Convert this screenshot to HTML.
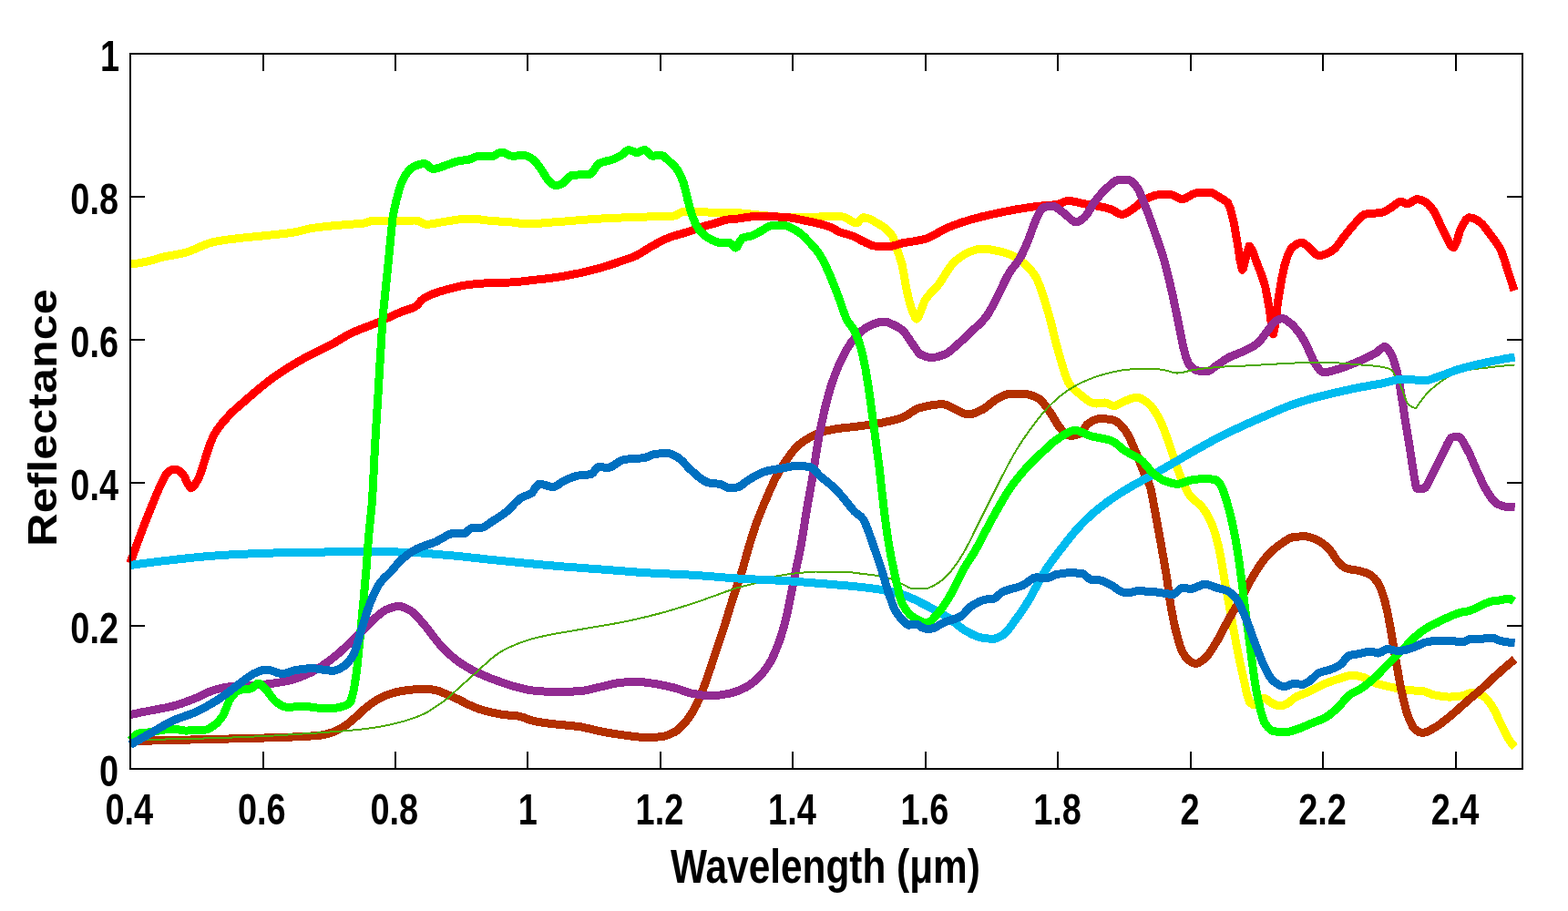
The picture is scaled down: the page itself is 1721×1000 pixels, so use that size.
<!DOCTYPE html>
<html lang="en">
<head>
<meta charset="utf-8">
<title>Reflectance vs Wavelength</title>
<style>
html,body{margin:0;padding:0;background:#fff;}
body{width:1721px;height:1000px;overflow:hidden;}
svg{display:block;}
text{font-family:"Liberation Sans",Arial,Helvetica,sans-serif;font-weight:bold;fill:#000;}
.c{fill:none;stroke-linejoin:round;stroke-linecap:butt;}
</style>
</head>
<body>
<svg width="1721" height="1000" viewBox="0 0 1721 1000">
<rect x="0" y="0" width="1721" height="1000" fill="#ffffff"/>
<g class="c">
<polyline stroke="#ffff00" stroke-width="8.2" points="143.0,290.0 146.5,289.6 150.0,289.2 153.5,288.6 157.0,287.9 160.5,287.2 164.0,286.5 165.0,286.2 167.5,285.6 171.0,284.5 174.5,283.3 177.5,282.5 178.0,282.4 181.5,281.6 185.0,280.9 188.5,280.3 192.0,279.7 195.5,279.0 199.0,278.3 202.5,277.5 202.5,277.5 206.0,276.5 209.5,275.2 213.0,273.8 216.5,272.3 220.0,270.7 223.5,269.2 227.0,267.9 230.5,266.7 234.0,265.7 235.0,265.5 237.5,265.0 241.0,264.4 244.5,263.8 248.0,263.3 251.5,262.8 255.0,262.4 258.5,262.0 262.0,261.6 265.0,261.2 265.5,261.2 269.0,260.8 272.5,260.4 276.0,260.1 279.5,259.8 283.0,259.4 286.5,259.1 290.0,258.8 290.0,258.7 293.5,258.4 297.1,258.0 300.6,257.7 304.1,257.3 307.6,256.9 311.1,256.5 314.6,256.1 318.1,255.7 321.6,255.1 322.5,255.0 325.1,254.5 328.6,253.7 332.1,252.8 335.6,251.9 339.1,251.1 342.5,250.5 342.6,250.5 346.1,250.0 349.6,249.5 353.1,249.1 356.6,248.7 360.1,248.4 363.6,248.0 367.1,247.7 370.6,247.4 374.1,247.1 377.5,246.8 377.6,246.7 381.1,246.5 384.6,246.2 388.1,246.0 391.6,245.8 395.1,245.5 398.6,245.2 400.0,245.0 402.1,244.5 405.6,243.1 409.1,242.1 410.0,242.0 412.6,242.0 416.1,242.1 419.6,242.2 423.1,242.3 426.6,242.4 430.1,242.4 433.6,242.5 435.0,242.5 437.1,242.5 440.6,242.4 444.1,242.3 447.6,242.2 451.1,242.1 454.6,242.0 457.5,242.0 458.1,242.0 461.6,243.6 465.1,245.6 467.5,246.2 468.6,246.2 472.1,246.0 475.6,245.5 479.1,244.9 482.6,244.3 486.1,243.6 489.6,243.1 490.0,243.0 493.1,242.6 496.6,242.0 500.1,241.5 503.6,240.9 507.1,240.5 510.6,240.2 514.1,240.0 515.0,240.0 517.6,240.1 521.1,240.3 524.6,240.7 528.1,241.1 531.6,241.6 535.1,242.0 538.6,242.4 540.0,242.5 542.1,242.7 545.6,242.9 549.1,243.1 552.6,243.3 556.1,243.5 559.6,243.7 560.0,243.8 563.1,244.1 566.6,244.6 570.1,245.1 573.6,245.6 577.1,245.7 577.5,245.8 580.6,245.7 584.1,245.6 587.6,245.4 591.1,245.2 594.6,245.0 598.1,244.7 601.7,244.4 605.2,244.1 608.7,243.8 610.0,243.8 612.2,243.6 615.7,243.3 619.2,243.1 622.7,242.8 626.2,242.5 629.7,242.2 633.2,241.9 636.7,241.6 640.2,241.4 643.7,241.1 647.2,240.8 650.7,240.6 654.2,240.3 657.7,240.1 660.0,240.0 661.2,239.9 664.7,239.8 668.2,239.6 671.7,239.4 675.2,239.3 678.7,239.1 682.2,239.0 685.7,238.9 689.2,238.7 692.7,238.6 696.2,238.5 699.7,238.4 703.2,238.2 706.7,238.1 710.0,238.0 710.2,238.0 713.7,237.9 717.2,237.8 720.7,237.7 724.2,237.7 727.7,237.6 731.2,237.5 734.7,237.3 738.2,237.1 740.0,237.0 741.7,236.6 745.2,234.5 748.7,232.7 750.0,232.5 752.2,232.5 755.7,232.5 759.2,232.6 762.7,232.7 766.2,232.8 769.7,232.8 773.2,232.9 776.7,233.0 780.2,233.1 783.7,233.2 785.0,233.2 787.2,233.3 790.7,233.4 794.2,233.4 797.7,233.5 801.2,233.5 804.7,233.6 808.2,233.7 810.0,233.8 811.7,233.8 815.2,234.1 818.7,234.4 822.2,234.8 825.7,235.2 829.2,235.7 832.7,236.0 835.0,236.2 836.2,236.4 839.7,236.7 843.2,237.0 846.7,237.3 850.2,237.6 853.7,237.9 857.2,238.1 860.7,238.4 864.2,238.6 867.7,238.7 871.2,238.7 872.5,238.8 874.7,238.8 878.2,238.8 881.7,238.8 885.0,238.8 885.2,238.7 888.7,238.7 892.2,238.5 895.7,238.3 899.2,238.0 902.8,237.8 906.3,237.6 909.8,237.5 910.0,237.5 913.3,237.5 916.8,237.6 920.3,237.7 923.8,237.9 925.0,238.0 927.3,238.5 930.8,240.4 934.3,242.8 937.8,244.6 940.0,245.0 941.3,244.5 944.8,240.6 947.5,238.8 948.3,238.8 951.8,239.4 955.3,240.7 958.8,242.6 962.3,244.6 965.0,246.2 965.8,246.7 969.3,248.9 972.8,251.6 976.3,255.0 979.8,259.7 980.0,260.0 983.3,269.3 985.0,275.0 986.8,280.0 990.0,290.0 990.3,291.1 993.8,311.0 995.0,317.5 997.3,327.8 1000.0,337.5 1000.8,339.7 1004.3,348.2 1006.2,350.0 1007.8,348.7 1011.3,339.7 1014.8,330.4 1015.0,330.0 1018.3,325.4 1021.8,321.4 1025.3,317.8 1028.8,314.0 1030.0,312.5 1032.3,309.3 1035.8,303.9 1039.3,298.3 1042.8,293.0 1046.3,288.7 1047.5,287.5 1049.8,285.5 1053.3,282.8 1056.8,280.4 1060.3,278.3 1063.8,276.7 1065.0,276.2 1067.3,275.4 1070.8,274.2 1074.3,273.3 1077.5,273.0 1077.8,273.0 1081.3,273.2 1084.8,273.6 1088.3,274.2 1091.8,274.9 1095.0,275.5 1095.3,275.6 1098.8,276.3 1102.3,277.3 1105.8,278.4 1109.3,279.7 1110.0,280.0 1112.8,281.3 1116.3,283.4 1119.8,285.8 1123.3,288.6 1125.0,290.0 1126.8,291.6 1130.3,295.1 1133.8,299.4 1137.3,304.7 1137.5,305.0 1140.8,312.6 1144.3,323.0 1145.0,325.0 1147.8,333.8 1151.3,345.8 1152.5,350.0 1154.8,359.1 1158.3,373.5 1160.0,380.0 1161.8,386.7 1165.0,397.5 1165.3,398.6 1168.8,410.3 1172.3,419.2 1172.5,419.5 1175.8,424.2 1179.3,427.9 1182.8,430.8 1185.0,432.5 1186.3,433.6 1189.8,436.4 1193.3,439.2 1196.8,441.4 1200.3,442.7 1202.5,443.0 1203.8,443.0 1207.4,442.5 1210.9,442.1 1212.5,442.0 1214.4,442.3 1217.9,443.9 1221.4,445.4 1222.5,445.5 1224.9,445.1 1228.4,443.5 1231.9,441.5 1235.0,440.0 1235.4,439.9 1238.9,438.5 1242.4,437.2 1245.9,436.4 1247.5,436.2 1249.4,436.5 1252.9,437.7 1256.4,439.9 1259.9,442.4 1260.0,442.5 1263.4,445.7 1266.9,450.5 1270.4,456.2 1272.5,460.0 1273.9,462.7 1277.4,471.0 1280.9,480.5 1282.5,485.0 1284.4,490.4 1287.9,501.2 1290.0,507.5 1291.4,511.4 1294.9,521.0 1297.5,527.5 1298.4,529.5 1301.9,537.1 1305.0,542.5 1305.4,543.0 1308.9,547.0 1312.4,550.1 1315.9,553.1 1319.4,556.7 1320.0,557.5 1322.9,561.5 1326.4,567.4 1329.9,574.7 1330.0,575.0 1333.4,584.6 1336.9,597.5 1337.5,600.0 1340.4,614.8 1343.9,635.5 1344.2,637.5 1347.4,655.1 1350.9,674.4 1351.0,675.0 1354.4,693.6 1357.9,712.0 1358.0,712.5 1361.4,728.9 1364.9,744.6 1365.0,745.0 1368.4,761.0 1371.5,770.5 1371.9,770.9 1375.4,773.6 1377.0,774.0 1378.9,773.3 1382.4,770.0 1385.9,766.7 1387.5,766.2 1389.4,766.9 1392.9,769.8 1395.0,771.2 1396.4,772.0 1399.9,773.7 1403.4,774.9 1405.0,775.0 1406.9,774.8 1410.4,773.5 1412.5,772.5 1413.9,771.7 1417.4,768.9 1420.9,766.0 1422.5,765.0 1424.4,764.1 1427.9,762.7 1431.4,761.4 1434.9,760.0 1435.0,760.0 1438.4,758.4 1441.9,756.5 1445.4,754.7 1448.9,752.9 1452.4,751.3 1452.5,751.2 1455.9,749.9 1459.4,748.5 1462.9,747.3 1466.4,746.1 1469.9,745.0 1470.0,745.0 1473.4,743.9 1476.9,742.7 1480.4,741.8 1483.9,741.3 1485.0,741.2 1487.4,741.4 1490.9,742.0 1494.4,742.9 1497.5,743.8 1497.9,743.9 1501.4,745.5 1504.9,747.5 1508.4,749.4 1510.0,750.0 1512.0,750.6 1515.5,751.6 1519.0,752.4 1522.5,753.2 1525.0,753.8 1526.0,754.0 1529.5,754.7 1533.0,755.5 1536.5,756.2 1540.0,756.8 1543.5,757.3 1545.0,757.5 1547.0,757.7 1550.5,757.9 1554.0,758.1 1557.5,758.3 1561.0,758.6 1562.5,758.8 1564.5,759.2 1568.0,760.7 1571.5,762.2 1572.5,762.5 1575.0,763.0 1578.5,763.7 1582.0,764.3 1585.5,764.8 1589.0,765.0 1590.0,765.0 1592.5,765.0 1596.0,764.8 1599.5,764.4 1603.0,764.0 1605.0,763.8 1606.5,763.4 1610.0,762.0 1613.5,760.7 1615.0,760.5 1617.0,760.6 1620.5,761.2 1624.0,762.3 1627.5,763.7 1627.5,763.8 1631.0,766.4 1634.5,770.7 1637.5,775.0 1638.0,775.7 1641.5,782.2 1645.0,789.7 1647.5,795.0 1648.5,797.0 1652.0,804.4 1655.0,810.0 1655.5,810.8 1659.0,815.9 1662.5,820.0"/>
<polyline stroke="#ffff00" stroke-width="9" shape-rendering="crispEdges" points="143.0,290.0 146.5,289.6 150.0,289.2 153.5,288.6 157.0,287.9 160.5,287.2 164.0,286.5 165.0,286.2 167.5,285.6 171.0,284.5 174.5,283.3 177.5,282.5 178.0,282.4 181.5,281.6 185.0,280.9 188.5,280.3 192.0,279.7 195.5,279.0 199.0,278.3 202.5,277.5 202.5,277.5 206.0,276.5 209.5,275.2 213.0,273.8 216.5,272.3 220.0,270.7 223.5,269.2 227.0,267.9 230.5,266.7 234.0,265.7 235.0,265.5 237.5,265.0 241.0,264.4 244.5,263.8 248.0,263.3 251.5,262.8 255.0,262.4 258.5,262.0 262.0,261.6 265.0,261.2 265.5,261.2 269.0,260.8 272.5,260.4 276.0,260.1 279.5,259.8 283.0,259.4 286.5,259.1 290.0,258.8 290.0,258.7 293.5,258.4 297.1,258.0 300.6,257.7 304.1,257.3 307.6,256.9 311.1,256.5 314.6,256.1 318.1,255.7 321.6,255.1 322.5,255.0 325.1,254.5 328.6,253.7 332.1,252.8 335.6,251.9 339.1,251.1 342.5,250.5 342.6,250.5 346.1,250.0 349.6,249.5 353.1,249.1 356.6,248.7 360.1,248.4 363.6,248.0 367.1,247.7 370.6,247.4 374.1,247.1 377.5,246.8 377.6,246.7 381.1,246.5 384.6,246.2 388.1,246.0 391.6,245.8 395.1,245.5 398.6,245.2 400.0,245.0 402.1,244.5 405.6,243.1 409.1,242.1 410.0,242.0 412.6,242.0 416.1,242.1 419.6,242.2 423.1,242.3 426.6,242.4 430.1,242.4 433.6,242.5 435.0,242.5 437.1,242.5 440.6,242.4 444.1,242.3 447.6,242.2 451.1,242.1 454.6,242.0 457.5,242.0 458.1,242.0 461.6,243.6 465.1,245.6 467.5,246.2 468.6,246.2 472.1,246.0 475.6,245.5 479.1,244.9 482.6,244.3 486.1,243.6 489.6,243.1 490.0,243.0 493.1,242.6 496.6,242.0 500.1,241.5 503.6,240.9 507.1,240.5 510.6,240.2 514.1,240.0 515.0,240.0 517.6,240.1 521.1,240.3 524.6,240.7 528.1,241.1 531.6,241.6 535.1,242.0 538.6,242.4 540.0,242.5 542.1,242.7 545.6,242.9 549.1,243.1 552.6,243.3 556.1,243.5 559.6,243.7 560.0,243.8 563.1,244.1 566.6,244.6 570.1,245.1 573.6,245.6 577.1,245.7 577.5,245.8 580.6,245.7 584.1,245.6 587.6,245.4 591.1,245.2 594.6,245.0 598.1,244.7 601.7,244.4 605.2,244.1 608.7,243.8 610.0,243.8 612.2,243.6 615.7,243.3 619.2,243.1 622.7,242.8 626.2,242.5 629.7,242.2 633.2,241.9 636.7,241.6 640.2,241.4 643.7,241.1 647.2,240.8 650.7,240.6 654.2,240.3 657.7,240.1 660.0,240.0 661.2,239.9 664.7,239.8 668.2,239.6 671.7,239.4 675.2,239.3 678.7,239.1 682.2,239.0 685.7,238.9 689.2,238.7 692.7,238.6 696.2,238.5 699.7,238.4 703.2,238.2 706.7,238.1 710.0,238.0 710.2,238.0 713.7,237.9 717.2,237.8 720.7,237.7 724.2,237.7 727.7,237.6 731.2,237.5 734.7,237.3 738.2,237.1 740.0,237.0 741.7,236.6 745.2,234.5 748.7,232.7 750.0,232.5 752.2,232.5 755.7,232.5 759.2,232.6 762.7,232.7 766.2,232.8 769.7,232.8 773.2,232.9 776.7,233.0 780.2,233.1 783.7,233.2 785.0,233.2 787.2,233.3 790.7,233.4 794.2,233.4 797.7,233.5 801.2,233.5 804.7,233.6 808.2,233.7 810.0,233.8 811.7,233.8 815.2,234.1 818.7,234.4 822.2,234.8 825.7,235.2 829.2,235.7 832.7,236.0 835.0,236.2 836.2,236.4 839.7,236.7 843.2,237.0 846.7,237.3 850.2,237.6 853.7,237.9 857.2,238.1 860.7,238.4 864.2,238.6 867.7,238.7 871.2,238.7 872.5,238.8 874.7,238.8 878.2,238.8 881.7,238.8 885.0,238.8 885.2,238.7 888.7,238.7 892.2,238.5 895.7,238.3 899.2,238.0 902.8,237.8 906.3,237.6 909.8,237.5 910.0,237.5 913.3,237.5 916.8,237.6 920.3,237.7 923.8,237.9 925.0,238.0 927.3,238.5 930.8,240.4 934.3,242.8 937.8,244.6 940.0,245.0 941.3,244.5 944.8,240.6 947.5,238.8 948.3,238.8 951.8,239.4 955.3,240.7 958.8,242.6 962.3,244.6 965.0,246.2 965.8,246.7 969.3,248.9 972.8,251.6 976.3,255.0 979.8,259.7 980.0,260.0 983.3,269.3 985.0,275.0 986.8,280.0 990.0,290.0 990.3,291.1 993.8,311.0 995.0,317.5 997.3,327.8 1000.0,337.5 1000.8,339.7 1004.3,348.2 1006.2,350.0 1007.8,348.7 1011.3,339.7 1014.8,330.4 1015.0,330.0 1018.3,325.4 1021.8,321.4 1025.3,317.8 1028.8,314.0 1030.0,312.5 1032.3,309.3 1035.8,303.9 1039.3,298.3 1042.8,293.0 1046.3,288.7 1047.5,287.5 1049.8,285.5 1053.3,282.8 1056.8,280.4 1060.3,278.3 1063.8,276.7 1065.0,276.2 1067.3,275.4 1070.8,274.2 1074.3,273.3 1077.5,273.0 1077.8,273.0 1081.3,273.2 1084.8,273.6 1088.3,274.2 1091.8,274.9 1095.0,275.5 1095.3,275.6 1098.8,276.3 1102.3,277.3 1105.8,278.4 1109.3,279.7 1110.0,280.0 1112.8,281.3 1116.3,283.4 1119.8,285.8 1123.3,288.6 1125.0,290.0 1126.8,291.6 1130.3,295.1 1133.8,299.4 1137.3,304.7 1137.5,305.0 1140.8,312.6 1144.3,323.0 1145.0,325.0 1147.8,333.8 1151.3,345.8 1152.5,350.0 1154.8,359.1 1158.3,373.5 1160.0,380.0 1161.8,386.7 1165.0,397.5 1165.3,398.6 1168.8,410.3 1172.3,419.2 1172.5,419.5 1175.8,424.2 1179.3,427.9 1182.8,430.8 1185.0,432.5 1186.3,433.6 1189.8,436.4 1193.3,439.2 1196.8,441.4 1200.3,442.7 1202.5,443.0 1203.8,443.0 1207.4,442.5 1210.9,442.1 1212.5,442.0 1214.4,442.3 1217.9,443.9 1221.4,445.4 1222.5,445.5 1224.9,445.1 1228.4,443.5 1231.9,441.5 1235.0,440.0 1235.4,439.9 1238.9,438.5 1242.4,437.2 1245.9,436.4 1247.5,436.2 1249.4,436.5 1252.9,437.7 1256.4,439.9 1259.9,442.4 1260.0,442.5 1263.4,445.7 1266.9,450.5 1270.4,456.2 1272.5,460.0 1273.9,462.7 1277.4,471.0 1280.9,480.5 1282.5,485.0 1284.4,490.4 1287.9,501.2 1290.0,507.5 1291.4,511.4 1294.9,521.0 1297.5,527.5 1298.4,529.5 1301.9,537.1 1305.0,542.5 1305.4,543.0 1308.9,547.0 1312.4,550.1 1315.9,553.1 1319.4,556.7 1320.0,557.5 1322.9,561.5 1326.4,567.4 1329.9,574.7 1330.0,575.0 1333.4,584.6 1336.9,597.5 1337.5,600.0 1340.4,614.8 1343.9,635.5 1344.2,637.5 1347.4,655.1 1350.9,674.4 1351.0,675.0 1354.4,693.6 1357.9,712.0 1358.0,712.5 1361.4,728.9 1364.9,744.6 1365.0,745.0 1368.4,761.0 1371.5,770.5 1371.9,770.9 1375.4,773.6 1377.0,774.0 1378.9,773.3 1382.4,770.0 1385.9,766.7 1387.5,766.2 1389.4,766.9 1392.9,769.8 1395.0,771.2 1396.4,772.0 1399.9,773.7 1403.4,774.9 1405.0,775.0 1406.9,774.8 1410.4,773.5 1412.5,772.5 1413.9,771.7 1417.4,768.9 1420.9,766.0 1422.5,765.0 1424.4,764.1 1427.9,762.7 1431.4,761.4 1434.9,760.0 1435.0,760.0 1438.4,758.4 1441.9,756.5 1445.4,754.7 1448.9,752.9 1452.4,751.3 1452.5,751.2 1455.9,749.9 1459.4,748.5 1462.9,747.3 1466.4,746.1 1469.9,745.0 1470.0,745.0 1473.4,743.9 1476.9,742.7 1480.4,741.8 1483.9,741.3 1485.0,741.2 1487.4,741.4 1490.9,742.0 1494.4,742.9 1497.5,743.8 1497.9,743.9 1501.4,745.5 1504.9,747.5 1508.4,749.4 1510.0,750.0 1512.0,750.6 1515.5,751.6 1519.0,752.4 1522.5,753.2 1525.0,753.8 1526.0,754.0 1529.5,754.7 1533.0,755.5 1536.5,756.2 1540.0,756.8 1543.5,757.3 1545.0,757.5 1547.0,757.7 1550.5,757.9 1554.0,758.1 1557.5,758.3 1561.0,758.6 1562.5,758.8 1564.5,759.2 1568.0,760.7 1571.5,762.2 1572.5,762.5 1575.0,763.0 1578.5,763.7 1582.0,764.3 1585.5,764.8 1589.0,765.0 1590.0,765.0 1592.5,765.0 1596.0,764.8 1599.5,764.4 1603.0,764.0 1605.0,763.8 1606.5,763.4 1610.0,762.0 1613.5,760.7 1615.0,760.5 1617.0,760.6 1620.5,761.2 1624.0,762.3 1627.5,763.7 1627.5,763.8 1631.0,766.4 1634.5,770.7 1637.5,775.0 1638.0,775.7 1641.5,782.2 1645.0,789.7 1647.5,795.0 1648.5,797.0 1652.0,804.4 1655.0,810.0 1655.5,810.8 1659.0,815.9 1662.5,820.0"/>
<polyline stroke="#ff0000" stroke-width="8.2" points="143.0,618.0 146.5,608.0 150.0,598.2 153.5,588.7 157.0,579.5 160.5,570.5 164.0,561.7 167.5,553.0 168.8,550.0 171.0,544.5 174.5,536.3 177.5,530.0 178.0,529.0 181.5,522.0 185.0,517.5 188.5,515.8 192.0,515.0 192.5,515.0 195.5,516.0 199.0,518.9 201.2,521.2 202.5,523.1 206.0,531.2 209.5,536.0 213.0,533.4 216.5,527.8 217.5,526.0 220.0,520.2 223.5,509.1 226.2,500.5 227.0,498.3 230.5,487.6 233.8,479.5 234.0,479.0 237.5,473.0 241.0,468.0 244.5,463.7 248.0,459.7 250.0,457.5 251.5,455.9 255.0,452.3 258.5,449.0 262.0,445.9 265.5,442.9 269.0,439.9 270.0,439.0 272.5,436.8 276.0,433.8 279.5,430.8 283.0,427.8 286.5,424.9 290.0,422.1 293.5,419.3 297.0,416.7 300.0,414.5 300.5,414.1 304.0,411.7 307.5,409.3 311.0,407.0 314.5,404.7 318.0,402.5 321.5,400.4 325.0,398.3 328.5,396.3 332.0,394.3 332.5,394.0 335.5,392.3 339.0,390.5 342.5,388.7 346.0,387.0 349.5,385.3 353.0,383.6 356.5,381.9 360.0,380.1 363.5,378.3 365.0,377.5 367.0,376.4 370.5,374.3 374.0,372.2 377.5,370.1 381.0,368.1 384.5,366.2 385.0,366.0 388.0,364.6 391.5,363.1 395.0,361.6 398.5,360.3 402.0,358.9 405.5,357.6 409.0,356.2 412.5,354.8 415.0,353.8 416.0,353.3 419.5,351.8 423.0,350.2 426.5,348.5 430.0,346.9 433.5,345.3 437.0,343.8 440.0,342.5 440.5,342.3 444.0,341.0 447.5,339.9 451.0,338.7 454.5,337.2 456.2,336.2 458.0,334.9 461.5,330.8 465.0,327.5 468.5,325.6 472.0,323.9 475.5,322.5 479.0,321.3 482.5,320.1 486.0,319.1 489.5,318.1 490.0,318.0 493.0,317.2 496.5,316.2 500.0,315.3 503.5,314.5 507.0,313.8 510.5,313.1 514.0,312.6 515.0,312.5 517.5,312.2 521.0,311.8 524.5,311.5 528.0,311.2 531.5,311.0 535.0,310.7 538.5,310.6 540.0,310.5 542.0,310.4 545.5,310.3 549.0,310.3 552.5,310.2 556.0,310.1 559.5,310.0 560.0,310.0 563.0,309.8 566.5,309.6 570.0,309.2 573.5,308.9 577.0,308.4 580.5,308.0 584.0,307.6 585.0,307.5 587.5,307.2 591.0,306.8 594.5,306.5 598.0,306.1 601.5,305.6 605.0,305.2 608.5,304.7 610.0,304.5 612.0,304.2 615.5,303.7 619.0,303.1 622.5,302.5 626.0,301.8 629.5,301.1 633.0,300.4 635.0,300.0 636.5,299.7 640.0,298.9 643.5,298.1 647.0,297.2 650.5,296.3 654.0,295.4 657.5,294.5 660.0,293.8 661.0,293.5 664.5,292.4 668.0,291.3 671.5,290.2 675.0,289.0 678.5,287.8 682.0,286.5 685.0,285.5 685.5,285.3 689.0,284.2 692.5,283.0 696.0,281.6 697.5,281.0 699.5,280.0 703.0,278.0 706.5,275.8 710.0,273.5 713.5,271.4 715.0,270.5 717.0,269.4 720.5,267.5 724.0,265.6 727.5,263.8 731.0,262.2 734.5,260.7 735.0,260.5 738.0,259.4 741.5,258.4 745.0,257.4 748.5,256.4 752.0,255.4 755.0,254.5 755.5,254.3 759.0,253.2 762.5,251.9 766.0,250.7 769.5,249.5 772.5,248.5 773.0,248.3 776.5,247.3 780.0,246.4 783.5,245.4 785.0,245.0 787.0,244.4 790.5,243.2 794.0,242.0 797.5,241.2 801.0,240.8 804.5,240.5 808.0,240.2 810.0,240.0 811.5,239.8 815.0,239.3 818.5,238.7 822.0,238.2 825.5,237.7 829.0,237.5 830.0,237.5 832.5,237.5 836.0,237.5 839.5,237.6 843.0,237.7 846.5,237.7 850.0,237.9 853.5,238.0 857.0,238.1 860.0,238.2 860.5,238.3 864.0,238.6 867.5,239.0 871.0,239.6 874.5,240.3 878.0,241.0 881.5,241.8 885.0,242.5 888.5,243.2 892.0,243.9 895.5,244.7 899.0,245.5 902.5,246.4 906.0,247.5 909.5,248.6 910.0,248.8 913.0,250.1 916.5,252.0 920.0,253.9 922.5,255.0 923.5,255.4 927.0,256.4 930.5,257.3 934.0,258.4 935.0,258.8 937.5,259.8 941.0,261.6 944.5,263.5 947.5,265.0 948.0,265.2 951.5,267.0 955.0,268.6 958.5,269.8 960.0,270.0 962.0,270.2 965.5,270.4 969.0,270.6 972.5,270.7 975.0,270.8 976.0,270.7 979.5,270.1 983.0,269.1 986.5,268.0 990.0,267.0 993.5,266.3 997.0,265.7 1000.5,265.2 1004.0,264.7 1007.5,264.1 1011.0,263.4 1014.5,262.6 1015.0,262.5 1018.0,261.5 1021.5,260.0 1025.0,258.1 1028.5,256.1 1032.0,254.1 1035.5,252.1 1039.0,250.4 1040.0,250.0 1042.5,249.0 1046.0,247.6 1049.5,246.3 1053.0,245.1 1056.5,243.9 1060.0,242.8 1063.5,241.7 1065.0,241.2 1067.0,240.7 1070.5,239.7 1074.0,238.8 1077.5,237.9 1081.0,237.1 1084.5,236.2 1088.0,235.4 1090.0,235.0 1091.5,234.7 1095.0,233.9 1098.5,233.2 1102.0,232.4 1105.5,231.7 1109.0,231.1 1112.5,230.4 1115.0,230.0 1116.0,229.8 1119.5,229.2 1123.0,228.7 1126.5,228.1 1130.0,227.6 1133.5,227.1 1137.0,226.6 1140.0,226.2 1140.5,226.2 1144.0,225.9 1147.5,225.6 1151.0,225.4 1154.5,225.1 1158.0,224.8 1160.0,224.5 1161.5,224.2 1165.0,222.8 1168.5,221.3 1172.0,220.5 1172.5,220.5 1175.5,220.7 1179.0,221.2 1182.5,222.0 1186.0,222.9 1189.5,223.7 1190.0,223.8 1193.0,224.3 1196.5,224.8 1200.0,225.4 1203.5,226.0 1205.0,226.2 1207.0,226.7 1210.5,227.4 1214.0,228.2 1217.5,229.2 1220.0,230.0 1221.0,230.4 1224.5,232.5 1228.0,234.6 1231.2,235.5 1231.5,235.5 1235.0,234.6 1238.5,232.6 1242.0,230.3 1242.5,230.0 1245.5,227.9 1249.0,225.0 1252.5,222.0 1256.0,219.5 1257.5,218.8 1259.5,217.8 1263.0,216.2 1266.5,214.8 1270.0,214.0 1272.5,213.8 1273.5,213.8 1277.0,213.8 1280.5,213.8 1284.0,213.8 1285.0,213.8 1287.5,214.3 1291.0,216.1 1294.5,218.0 1297.5,218.8 1298.0,218.7 1301.5,217.6 1305.0,215.5 1308.5,213.4 1312.0,212.1 1312.5,212.0 1315.5,211.7 1319.0,211.5 1322.5,211.3 1326.0,211.3 1327.5,211.2 1329.5,211.5 1333.0,213.0 1336.5,215.3 1340.0,217.5 1343.5,219.4 1347.0,222.0 1347.5,222.5 1350.5,229.5 1354.0,243.0 1357.5,262.9 1359.0,272.0 1361.0,285.6 1363.5,296.2 1364.5,295.1 1368.0,280.0 1371.2,270.0 1371.5,270.0 1375.0,275.5 1378.5,285.8 1380.0,290.0 1382.0,295.0 1385.5,304.2 1388.8,315.0 1389.0,316.0 1392.5,334.9 1393.8,342.5 1396.0,360.5 1397.5,367.0 1399.5,357.7 1402.5,332.0 1403.0,328.9 1406.5,307.4 1410.0,291.0 1413.5,280.1 1417.0,273.0 1417.5,272.5 1420.5,269.9 1424.0,267.6 1427.5,266.3 1428.8,266.2 1431.0,267.0 1434.5,269.8 1437.5,272.5 1438.0,272.9 1441.5,276.4 1445.0,279.6 1447.5,280.5 1448.5,280.5 1452.0,279.9 1455.5,278.6 1459.0,276.9 1462.5,275.0 1466.0,271.9 1469.5,267.5 1473.0,262.6 1475.0,260.0 1476.5,258.2 1480.0,253.8 1483.5,249.5 1487.0,245.5 1487.5,245.0 1490.5,241.5 1494.0,237.7 1497.5,235.5 1501.0,234.8 1504.5,234.4 1508.0,234.2 1511.5,233.9 1515.0,233.5 1517.5,233.0 1518.5,232.7 1522.0,231.0 1525.5,228.8 1527.5,227.5 1529.0,226.5 1532.5,223.6 1536.0,221.5 1537.5,221.2 1539.5,221.7 1543.0,223.3 1545.0,223.8 1546.5,223.4 1550.0,221.2 1553.5,219.1 1555.0,218.8 1557.0,218.9 1560.5,219.9 1563.8,221.2 1564.0,221.4 1567.5,224.0 1571.0,228.1 1572.5,230.0 1574.5,233.1 1578.0,240.1 1581.5,247.9 1585.0,255.0 1588.5,262.2 1592.0,269.0 1595.5,272.0 1599.0,265.0 1602.5,252.9 1603.8,250.0 1606.0,246.0 1609.5,240.6 1612.5,238.8 1613.0,238.8 1616.5,239.5 1620.0,241.1 1622.5,242.5 1623.5,243.1 1627.0,246.2 1630.5,250.4 1634.0,255.2 1637.5,260.0 1641.0,264.6 1644.5,269.6 1647.5,275.0 1648.0,276.1 1651.5,286.1 1655.0,297.5 1658.5,308.1 1662.0,318.8"/>
<polyline stroke="#ff0000" stroke-width="9" shape-rendering="crispEdges" points="143.0,618.0 146.5,608.0 150.0,598.2 153.5,588.7 157.0,579.5 160.5,570.5 164.0,561.7 167.5,553.0 168.8,550.0 171.0,544.5 174.5,536.3 177.5,530.0 178.0,529.0 181.5,522.0 185.0,517.5 188.5,515.8 192.0,515.0 192.5,515.0 195.5,516.0 199.0,518.9 201.2,521.2 202.5,523.1 206.0,531.2 209.5,536.0 213.0,533.4 216.5,527.8 217.5,526.0 220.0,520.2 223.5,509.1 226.2,500.5 227.0,498.3 230.5,487.6 233.8,479.5 234.0,479.0 237.5,473.0 241.0,468.0 244.5,463.7 248.0,459.7 250.0,457.5 251.5,455.9 255.0,452.3 258.5,449.0 262.0,445.9 265.5,442.9 269.0,439.9 270.0,439.0 272.5,436.8 276.0,433.8 279.5,430.8 283.0,427.8 286.5,424.9 290.0,422.1 293.5,419.3 297.0,416.7 300.0,414.5 300.5,414.1 304.0,411.7 307.5,409.3 311.0,407.0 314.5,404.7 318.0,402.5 321.5,400.4 325.0,398.3 328.5,396.3 332.0,394.3 332.5,394.0 335.5,392.3 339.0,390.5 342.5,388.7 346.0,387.0 349.5,385.3 353.0,383.6 356.5,381.9 360.0,380.1 363.5,378.3 365.0,377.5 367.0,376.4 370.5,374.3 374.0,372.2 377.5,370.1 381.0,368.1 384.5,366.2 385.0,366.0 388.0,364.6 391.5,363.1 395.0,361.6 398.5,360.3 402.0,358.9 405.5,357.6 409.0,356.2 412.5,354.8 415.0,353.8 416.0,353.3 419.5,351.8 423.0,350.2 426.5,348.5 430.0,346.9 433.5,345.3 437.0,343.8 440.0,342.5 440.5,342.3 444.0,341.0 447.5,339.9 451.0,338.7 454.5,337.2 456.2,336.2 458.0,334.9 461.5,330.8 465.0,327.5 468.5,325.6 472.0,323.9 475.5,322.5 479.0,321.3 482.5,320.1 486.0,319.1 489.5,318.1 490.0,318.0 493.0,317.2 496.5,316.2 500.0,315.3 503.5,314.5 507.0,313.8 510.5,313.1 514.0,312.6 515.0,312.5 517.5,312.2 521.0,311.8 524.5,311.5 528.0,311.2 531.5,311.0 535.0,310.7 538.5,310.6 540.0,310.5 542.0,310.4 545.5,310.3 549.0,310.3 552.5,310.2 556.0,310.1 559.5,310.0 560.0,310.0 563.0,309.8 566.5,309.6 570.0,309.2 573.5,308.9 577.0,308.4 580.5,308.0 584.0,307.6 585.0,307.5 587.5,307.2 591.0,306.8 594.5,306.5 598.0,306.1 601.5,305.6 605.0,305.2 608.5,304.7 610.0,304.5 612.0,304.2 615.5,303.7 619.0,303.1 622.5,302.5 626.0,301.8 629.5,301.1 633.0,300.4 635.0,300.0 636.5,299.7 640.0,298.9 643.5,298.1 647.0,297.2 650.5,296.3 654.0,295.4 657.5,294.5 660.0,293.8 661.0,293.5 664.5,292.4 668.0,291.3 671.5,290.2 675.0,289.0 678.5,287.8 682.0,286.5 685.0,285.5 685.5,285.3 689.0,284.2 692.5,283.0 696.0,281.6 697.5,281.0 699.5,280.0 703.0,278.0 706.5,275.8 710.0,273.5 713.5,271.4 715.0,270.5 717.0,269.4 720.5,267.5 724.0,265.6 727.5,263.8 731.0,262.2 734.5,260.7 735.0,260.5 738.0,259.4 741.5,258.4 745.0,257.4 748.5,256.4 752.0,255.4 755.0,254.5 755.5,254.3 759.0,253.2 762.5,251.9 766.0,250.7 769.5,249.5 772.5,248.5 773.0,248.3 776.5,247.3 780.0,246.4 783.5,245.4 785.0,245.0 787.0,244.4 790.5,243.2 794.0,242.0 797.5,241.2 801.0,240.8 804.5,240.5 808.0,240.2 810.0,240.0 811.5,239.8 815.0,239.3 818.5,238.7 822.0,238.2 825.5,237.7 829.0,237.5 830.0,237.5 832.5,237.5 836.0,237.5 839.5,237.6 843.0,237.7 846.5,237.7 850.0,237.9 853.5,238.0 857.0,238.1 860.0,238.2 860.5,238.3 864.0,238.6 867.5,239.0 871.0,239.6 874.5,240.3 878.0,241.0 881.5,241.8 885.0,242.5 888.5,243.2 892.0,243.9 895.5,244.7 899.0,245.5 902.5,246.4 906.0,247.5 909.5,248.6 910.0,248.8 913.0,250.1 916.5,252.0 920.0,253.9 922.5,255.0 923.5,255.4 927.0,256.4 930.5,257.3 934.0,258.4 935.0,258.8 937.5,259.8 941.0,261.6 944.5,263.5 947.5,265.0 948.0,265.2 951.5,267.0 955.0,268.6 958.5,269.8 960.0,270.0 962.0,270.2 965.5,270.4 969.0,270.6 972.5,270.7 975.0,270.8 976.0,270.7 979.5,270.1 983.0,269.1 986.5,268.0 990.0,267.0 993.5,266.3 997.0,265.7 1000.5,265.2 1004.0,264.7 1007.5,264.1 1011.0,263.4 1014.5,262.6 1015.0,262.5 1018.0,261.5 1021.5,260.0 1025.0,258.1 1028.5,256.1 1032.0,254.1 1035.5,252.1 1039.0,250.4 1040.0,250.0 1042.5,249.0 1046.0,247.6 1049.5,246.3 1053.0,245.1 1056.5,243.9 1060.0,242.8 1063.5,241.7 1065.0,241.2 1067.0,240.7 1070.5,239.7 1074.0,238.8 1077.5,237.9 1081.0,237.1 1084.5,236.2 1088.0,235.4 1090.0,235.0 1091.5,234.7 1095.0,233.9 1098.5,233.2 1102.0,232.4 1105.5,231.7 1109.0,231.1 1112.5,230.4 1115.0,230.0 1116.0,229.8 1119.5,229.2 1123.0,228.7 1126.5,228.1 1130.0,227.6 1133.5,227.1 1137.0,226.6 1140.0,226.2 1140.5,226.2 1144.0,225.9 1147.5,225.6 1151.0,225.4 1154.5,225.1 1158.0,224.8 1160.0,224.5 1161.5,224.2 1165.0,222.8 1168.5,221.3 1172.0,220.5 1172.5,220.5 1175.5,220.7 1179.0,221.2 1182.5,222.0 1186.0,222.9 1189.5,223.7 1190.0,223.8 1193.0,224.3 1196.5,224.8 1200.0,225.4 1203.5,226.0 1205.0,226.2 1207.0,226.7 1210.5,227.4 1214.0,228.2 1217.5,229.2 1220.0,230.0 1221.0,230.4 1224.5,232.5 1228.0,234.6 1231.2,235.5 1231.5,235.5 1235.0,234.6 1238.5,232.6 1242.0,230.3 1242.5,230.0 1245.5,227.9 1249.0,225.0 1252.5,222.0 1256.0,219.5 1257.5,218.8 1259.5,217.8 1263.0,216.2 1266.5,214.8 1270.0,214.0 1272.5,213.8 1273.5,213.8 1277.0,213.8 1280.5,213.8 1284.0,213.8 1285.0,213.8 1287.5,214.3 1291.0,216.1 1294.5,218.0 1297.5,218.8 1298.0,218.7 1301.5,217.6 1305.0,215.5 1308.5,213.4 1312.0,212.1 1312.5,212.0 1315.5,211.7 1319.0,211.5 1322.5,211.3 1326.0,211.3 1327.5,211.2 1329.5,211.5 1333.0,213.0 1336.5,215.3 1340.0,217.5 1343.5,219.4 1347.0,222.0 1347.5,222.5 1350.5,229.5 1354.0,243.0 1357.5,262.9 1359.0,272.0 1361.0,285.6 1363.5,296.2 1364.5,295.1 1368.0,280.0 1371.2,270.0 1371.5,270.0 1375.0,275.5 1378.5,285.8 1380.0,290.0 1382.0,295.0 1385.5,304.2 1388.8,315.0 1389.0,316.0 1392.5,334.9 1393.8,342.5 1396.0,360.5 1397.5,367.0 1399.5,357.7 1402.5,332.0 1403.0,328.9 1406.5,307.4 1410.0,291.0 1413.5,280.1 1417.0,273.0 1417.5,272.5 1420.5,269.9 1424.0,267.6 1427.5,266.3 1428.8,266.2 1431.0,267.0 1434.5,269.8 1437.5,272.5 1438.0,272.9 1441.5,276.4 1445.0,279.6 1447.5,280.5 1448.5,280.5 1452.0,279.9 1455.5,278.6 1459.0,276.9 1462.5,275.0 1466.0,271.9 1469.5,267.5 1473.0,262.6 1475.0,260.0 1476.5,258.2 1480.0,253.8 1483.5,249.5 1487.0,245.5 1487.5,245.0 1490.5,241.5 1494.0,237.7 1497.5,235.5 1501.0,234.8 1504.5,234.4 1508.0,234.2 1511.5,233.9 1515.0,233.5 1517.5,233.0 1518.5,232.7 1522.0,231.0 1525.5,228.8 1527.5,227.5 1529.0,226.5 1532.5,223.6 1536.0,221.5 1537.5,221.2 1539.5,221.7 1543.0,223.3 1545.0,223.8 1546.5,223.4 1550.0,221.2 1553.5,219.1 1555.0,218.8 1557.0,218.9 1560.5,219.9 1563.8,221.2 1564.0,221.4 1567.5,224.0 1571.0,228.1 1572.5,230.0 1574.5,233.1 1578.0,240.1 1581.5,247.9 1585.0,255.0 1588.5,262.2 1592.0,269.0 1595.5,272.0 1599.0,265.0 1602.5,252.9 1603.8,250.0 1606.0,246.0 1609.5,240.6 1612.5,238.8 1613.0,238.8 1616.5,239.5 1620.0,241.1 1622.5,242.5 1623.5,243.1 1627.0,246.2 1630.5,250.4 1634.0,255.2 1637.5,260.0 1641.0,264.6 1644.5,269.6 1647.5,275.0 1648.0,276.1 1651.5,286.1 1655.0,297.5 1658.5,308.1 1662.0,318.8"/>
<polyline stroke="#b33000" stroke-width="8.2" points="143.0,813.5 146.5,813.4 150.0,813.4 153.5,813.3 157.0,813.2 160.5,813.1 164.0,813.1 167.5,813.0 171.0,812.9 174.5,812.8 178.0,812.8 181.5,812.7 185.0,812.6 188.5,812.5 190.0,812.5 192.0,812.5 195.5,812.4 199.0,812.3 202.5,812.2 206.0,812.1 209.5,812.0 213.0,811.9 216.5,811.8 220.0,811.8 223.5,811.7 227.0,811.6 230.5,811.5 234.0,811.4 237.5,811.3 240.0,811.2 241.0,811.2 244.5,811.1 248.0,811.1 251.5,811.0 255.0,810.9 258.5,810.8 262.0,810.7 265.5,810.6 269.0,810.6 272.5,810.5 276.0,810.4 279.5,810.3 283.0,810.2 286.5,810.1 290.0,810.0 290.0,810.0 293.5,809.9 297.1,809.8 300.6,809.7 304.1,809.6 307.6,809.5 311.1,809.4 314.6,809.3 318.1,809.1 321.6,809.0 325.1,808.9 327.5,808.8 328.6,808.7 332.1,808.5 335.6,808.4 339.1,808.2 342.6,807.9 346.1,807.6 349.6,807.3 352.5,807.0 353.1,806.9 356.6,806.3 360.1,805.3 363.6,804.2 365.0,803.8 367.1,803.0 370.6,801.4 374.1,799.5 377.5,797.5 377.6,797.5 381.1,795.0 384.6,792.2 388.1,789.1 390.0,787.5 391.6,786.1 395.1,782.9 398.6,779.6 402.1,776.6 402.5,776.2 405.6,773.8 409.1,771.2 412.6,768.9 415.0,767.5 416.1,766.9 419.6,765.2 423.1,763.6 426.6,762.3 427.5,762.0 430.1,761.2 433.6,760.1 437.1,759.3 440.0,758.8 440.6,758.7 444.1,758.1 447.6,757.6 451.1,757.2 454.6,756.8 458.1,756.5 461.6,756.3 465.0,756.2 465.1,756.3 468.6,756.4 472.1,756.7 475.6,757.2 477.5,757.5 479.1,757.8 482.6,758.9 486.1,760.4 489.6,761.8 490.0,762.0 493.1,763.3 496.6,764.8 500.1,766.4 502.5,767.5 503.6,768.0 507.1,769.8 510.6,771.6 514.1,773.4 515.0,773.8 517.6,774.9 521.1,776.4 524.6,777.8 527.5,778.8 528.1,778.9 531.6,780.0 535.1,780.9 538.6,781.7 540.0,782.0 542.1,782.5 545.6,783.3 549.1,784.0 552.5,784.5 552.6,784.5 556.1,784.9 559.6,785.2 563.1,785.5 566.6,785.8 570.0,786.2 570.1,786.3 573.6,787.2 577.1,788.5 580.6,789.9 584.1,791.0 585.0,791.2 587.6,791.8 591.1,792.4 594.6,793.0 598.1,793.5 601.7,794.0 605.2,794.4 608.7,794.8 610.0,795.0 612.2,795.2 615.7,795.6 619.2,795.9 622.7,796.2 626.2,796.5 629.7,796.9 633.2,797.3 635.0,797.5 636.7,797.7 640.2,798.4 643.7,799.2 647.2,800.0 650.7,800.9 654.2,801.8 657.7,802.5 660.0,803.0 661.2,803.2 664.7,803.9 668.2,804.5 671.7,805.1 675.2,805.6 678.7,806.1 682.2,806.6 685.0,807.0 685.7,807.1 689.2,807.5 692.7,808.0 696.2,808.5 699.7,808.9 703.2,809.2 706.7,809.4 710.0,809.5 710.2,809.5 713.7,809.4 717.2,809.3 720.7,809.1 724.2,808.8 725.0,808.8 727.7,808.4 731.2,807.5 734.7,806.2 738.2,804.6 740.0,803.8 741.7,802.8 745.2,800.1 748.7,796.7 752.2,792.8 752.5,792.5 755.7,788.4 759.2,783.0 762.7,776.9 765.0,772.5 766.2,770.0 769.7,761.7 773.2,752.4 775.0,747.5 776.7,742.7 780.2,732.2 783.7,721.4 785.0,717.5 787.2,710.9 790.7,700.5 794.2,689.9 795.0,687.5 797.7,678.8 801.2,667.2 804.7,655.9 805.0,655.0 808.2,645.4 811.7,635.2 815.0,625.0 815.2,624.3 818.7,611.7 822.0,600.0 822.2,599.3 825.7,587.8 829.2,577.2 830.0,575.0 832.7,567.7 836.2,558.9 839.7,550.6 840.0,550.0 843.2,542.4 846.7,534.4 850.2,526.9 852.5,522.5 853.7,520.3 857.2,514.2 860.7,508.7 864.2,503.6 865.0,502.5 867.7,498.7 871.2,494.1 874.7,490.2 875.0,490.0 878.2,487.2 881.7,484.6 885.0,482.5 885.2,482.4 888.7,480.3 892.2,478.4 895.7,476.7 899.2,475.3 900.0,475.0 902.8,474.1 906.3,473.1 909.8,472.3 913.3,471.6 915.0,471.2 916.8,471.0 920.3,470.5 923.8,470.0 927.3,469.6 930.8,469.3 934.3,468.8 935.0,468.8 937.8,468.4 941.3,468.0 944.8,467.6 948.3,467.1 951.8,466.7 955.3,466.2 958.8,465.7 960.0,465.5 962.3,465.1 965.8,464.5 969.3,463.8 972.8,463.0 975.0,462.5 976.3,462.2 979.8,461.4 983.3,460.5 986.8,459.6 990.0,458.5 990.3,458.4 993.8,456.7 997.3,454.6 1000.8,452.2 1004.3,450.0 1007.8,448.2 1010.0,447.5 1011.3,447.2 1014.8,446.4 1018.3,445.6 1021.8,445.0 1025.3,444.5 1028.8,444.0 1032.3,443.8 1035.0,443.8 1035.8,443.8 1039.3,444.7 1042.8,446.4 1046.3,448.2 1047.5,448.8 1049.8,449.8 1053.3,451.7 1056.8,453.5 1060.3,454.7 1062.5,455.0 1063.8,454.9 1067.3,454.3 1070.8,453.0 1074.3,451.5 1077.5,450.0 1077.8,449.9 1081.3,447.7 1084.8,445.0 1088.3,442.1 1091.8,439.4 1095.0,437.5 1095.3,437.3 1098.8,435.6 1102.3,433.9 1105.8,432.6 1109.3,432.0 1110.0,432.0 1112.8,432.0 1116.3,432.1 1119.8,432.2 1123.3,432.4 1125.0,432.5 1126.8,432.7 1130.3,433.4 1133.8,434.6 1137.3,436.1 1140.0,437.5 1140.8,438.0 1144.3,441.3 1147.8,445.9 1151.3,450.9 1152.5,452.5 1154.8,456.0 1158.3,461.9 1161.8,467.6 1165.0,471.5 1165.3,471.8 1168.8,475.2 1172.3,477.8 1175.0,478.5 1175.8,478.5 1179.3,477.9 1182.8,476.8 1185.0,476.0 1186.3,475.1 1189.8,470.7 1193.3,465.9 1195.0,464.5 1196.8,463.4 1200.3,461.5 1203.8,460.1 1207.4,459.5 1207.5,459.5 1210.9,459.6 1214.4,459.9 1217.9,460.4 1221.4,461.0 1222.5,461.2 1224.9,462.2 1228.4,464.9 1231.9,468.6 1235.0,472.5 1235.4,473.0 1238.9,478.9 1242.4,486.5 1245.0,492.5 1245.9,494.5 1249.4,503.1 1252.9,512.2 1255.0,517.5 1256.4,520.6 1259.9,527.9 1262.5,535.0 1263.4,538.3 1266.9,556.6 1267.5,560.0 1270.4,575.6 1272.5,587.5 1273.9,595.2 1276.5,610.0 1277.4,614.9 1280.0,630.0 1280.9,635.8 1284.4,661.1 1285.0,665.0 1287.9,680.5 1290.0,690.0 1291.4,695.5 1294.9,708.3 1297.5,715.0 1298.4,716.6 1301.9,722.0 1305.0,725.0 1305.4,725.3 1308.9,727.5 1312.4,728.5 1312.5,728.5 1315.9,727.5 1319.4,725.1 1322.5,722.5 1322.9,722.2 1326.4,718.3 1329.9,713.2 1333.4,707.6 1335.0,705.0 1336.9,701.8 1340.4,695.4 1343.9,688.6 1347.4,682.0 1348.5,680.0 1350.9,675.8 1354.4,669.9 1357.9,664.1 1361.4,658.1 1362.0,657.0 1364.9,651.7 1368.4,645.0 1371.9,638.4 1375.0,633.0 1375.4,632.3 1378.9,626.6 1382.4,621.1 1385.9,616.1 1388.0,613.5 1389.4,611.9 1392.9,608.1 1396.4,604.7 1399.9,601.6 1403.4,598.9 1404.0,598.5 1406.9,596.4 1410.4,593.9 1413.9,591.7 1417.4,590.1 1420.0,589.5 1420.9,589.4 1424.4,589.1 1427.9,588.9 1431.4,588.8 1432.5,588.8 1434.9,589.0 1438.4,589.9 1441.9,591.2 1445.0,592.5 1445.4,592.7 1448.9,594.6 1452.4,597.0 1455.9,600.0 1459.4,603.4 1460.0,604.0 1462.9,608.1 1466.4,613.7 1467.5,615.0 1469.9,617.7 1473.4,621.2 1476.9,623.5 1477.5,623.8 1480.4,624.5 1483.9,625.2 1487.4,625.7 1490.0,626.2 1490.9,626.5 1494.4,627.3 1497.9,628.3 1501.4,629.5 1502.5,630.0 1504.9,631.5 1508.4,634.7 1512.0,639.2 1512.5,640.0 1515.5,646.0 1519.0,656.4 1520.0,660.0 1522.5,670.2 1526.0,688.4 1526.2,690.0 1529.5,709.1 1531.2,720.0 1533.0,730.1 1536.5,749.9 1537.5,755.0 1540.0,766.3 1543.5,780.3 1545.0,785.0 1547.0,790.1 1550.5,797.5 1552.5,800.0 1554.0,801.2 1557.5,803.5 1561.0,804.5 1561.2,804.5 1564.5,803.9 1568.0,802.4 1571.5,800.5 1572.5,800.0 1575.0,798.6 1578.5,796.4 1582.0,793.8 1585.5,791.1 1589.0,788.3 1590.0,787.5 1592.5,785.5 1596.0,782.5 1599.5,779.4 1603.0,776.3 1606.5,773.1 1610.0,770.0 1610.0,770.0 1613.5,767.0 1617.0,764.0 1620.5,761.1 1624.0,758.1 1627.5,755.0 1627.5,755.0 1631.0,751.8 1634.5,748.5 1638.0,745.2 1641.5,741.9 1645.0,738.8 1645.0,738.8 1648.5,735.7 1652.0,732.6 1655.5,729.6 1659.0,726.7 1662.5,723.8"/>
<polyline stroke="#b33000" stroke-width="9" shape-rendering="crispEdges" points="143.0,813.5 146.5,813.4 150.0,813.4 153.5,813.3 157.0,813.2 160.5,813.1 164.0,813.1 167.5,813.0 171.0,812.9 174.5,812.8 178.0,812.8 181.5,812.7 185.0,812.6 188.5,812.5 190.0,812.5 192.0,812.5 195.5,812.4 199.0,812.3 202.5,812.2 206.0,812.1 209.5,812.0 213.0,811.9 216.5,811.8 220.0,811.8 223.5,811.7 227.0,811.6 230.5,811.5 234.0,811.4 237.5,811.3 240.0,811.2 241.0,811.2 244.5,811.1 248.0,811.1 251.5,811.0 255.0,810.9 258.5,810.8 262.0,810.7 265.5,810.6 269.0,810.6 272.5,810.5 276.0,810.4 279.5,810.3 283.0,810.2 286.5,810.1 290.0,810.0 290.0,810.0 293.5,809.9 297.1,809.8 300.6,809.7 304.1,809.6 307.6,809.5 311.1,809.4 314.6,809.3 318.1,809.1 321.6,809.0 325.1,808.9 327.5,808.8 328.6,808.7 332.1,808.5 335.6,808.4 339.1,808.2 342.6,807.9 346.1,807.6 349.6,807.3 352.5,807.0 353.1,806.9 356.6,806.3 360.1,805.3 363.6,804.2 365.0,803.8 367.1,803.0 370.6,801.4 374.1,799.5 377.5,797.5 377.6,797.5 381.1,795.0 384.6,792.2 388.1,789.1 390.0,787.5 391.6,786.1 395.1,782.9 398.6,779.6 402.1,776.6 402.5,776.2 405.6,773.8 409.1,771.2 412.6,768.9 415.0,767.5 416.1,766.9 419.6,765.2 423.1,763.6 426.6,762.3 427.5,762.0 430.1,761.2 433.6,760.1 437.1,759.3 440.0,758.8 440.6,758.7 444.1,758.1 447.6,757.6 451.1,757.2 454.6,756.8 458.1,756.5 461.6,756.3 465.0,756.2 465.1,756.3 468.6,756.4 472.1,756.7 475.6,757.2 477.5,757.5 479.1,757.8 482.6,758.9 486.1,760.4 489.6,761.8 490.0,762.0 493.1,763.3 496.6,764.8 500.1,766.4 502.5,767.5 503.6,768.0 507.1,769.8 510.6,771.6 514.1,773.4 515.0,773.8 517.6,774.9 521.1,776.4 524.6,777.8 527.5,778.8 528.1,778.9 531.6,780.0 535.1,780.9 538.6,781.7 540.0,782.0 542.1,782.5 545.6,783.3 549.1,784.0 552.5,784.5 552.6,784.5 556.1,784.9 559.6,785.2 563.1,785.5 566.6,785.8 570.0,786.2 570.1,786.3 573.6,787.2 577.1,788.5 580.6,789.9 584.1,791.0 585.0,791.2 587.6,791.8 591.1,792.4 594.6,793.0 598.1,793.5 601.7,794.0 605.2,794.4 608.7,794.8 610.0,795.0 612.2,795.2 615.7,795.6 619.2,795.9 622.7,796.2 626.2,796.5 629.7,796.9 633.2,797.3 635.0,797.5 636.7,797.7 640.2,798.4 643.7,799.2 647.2,800.0 650.7,800.9 654.2,801.8 657.7,802.5 660.0,803.0 661.2,803.2 664.7,803.9 668.2,804.5 671.7,805.1 675.2,805.6 678.7,806.1 682.2,806.6 685.0,807.0 685.7,807.1 689.2,807.5 692.7,808.0 696.2,808.5 699.7,808.9 703.2,809.2 706.7,809.4 710.0,809.5 710.2,809.5 713.7,809.4 717.2,809.3 720.7,809.1 724.2,808.8 725.0,808.8 727.7,808.4 731.2,807.5 734.7,806.2 738.2,804.6 740.0,803.8 741.7,802.8 745.2,800.1 748.7,796.7 752.2,792.8 752.5,792.5 755.7,788.4 759.2,783.0 762.7,776.9 765.0,772.5 766.2,770.0 769.7,761.7 773.2,752.4 775.0,747.5 776.7,742.7 780.2,732.2 783.7,721.4 785.0,717.5 787.2,710.9 790.7,700.5 794.2,689.9 795.0,687.5 797.7,678.8 801.2,667.2 804.7,655.9 805.0,655.0 808.2,645.4 811.7,635.2 815.0,625.0 815.2,624.3 818.7,611.7 822.0,600.0 822.2,599.3 825.7,587.8 829.2,577.2 830.0,575.0 832.7,567.7 836.2,558.9 839.7,550.6 840.0,550.0 843.2,542.4 846.7,534.4 850.2,526.9 852.5,522.5 853.7,520.3 857.2,514.2 860.7,508.7 864.2,503.6 865.0,502.5 867.7,498.7 871.2,494.1 874.7,490.2 875.0,490.0 878.2,487.2 881.7,484.6 885.0,482.5 885.2,482.4 888.7,480.3 892.2,478.4 895.7,476.7 899.2,475.3 900.0,475.0 902.8,474.1 906.3,473.1 909.8,472.3 913.3,471.6 915.0,471.2 916.8,471.0 920.3,470.5 923.8,470.0 927.3,469.6 930.8,469.3 934.3,468.8 935.0,468.8 937.8,468.4 941.3,468.0 944.8,467.6 948.3,467.1 951.8,466.7 955.3,466.2 958.8,465.7 960.0,465.5 962.3,465.1 965.8,464.5 969.3,463.8 972.8,463.0 975.0,462.5 976.3,462.2 979.8,461.4 983.3,460.5 986.8,459.6 990.0,458.5 990.3,458.4 993.8,456.7 997.3,454.6 1000.8,452.2 1004.3,450.0 1007.8,448.2 1010.0,447.5 1011.3,447.2 1014.8,446.4 1018.3,445.6 1021.8,445.0 1025.3,444.5 1028.8,444.0 1032.3,443.8 1035.0,443.8 1035.8,443.8 1039.3,444.7 1042.8,446.4 1046.3,448.2 1047.5,448.8 1049.8,449.8 1053.3,451.7 1056.8,453.5 1060.3,454.7 1062.5,455.0 1063.8,454.9 1067.3,454.3 1070.8,453.0 1074.3,451.5 1077.5,450.0 1077.8,449.9 1081.3,447.7 1084.8,445.0 1088.3,442.1 1091.8,439.4 1095.0,437.5 1095.3,437.3 1098.8,435.6 1102.3,433.9 1105.8,432.6 1109.3,432.0 1110.0,432.0 1112.8,432.0 1116.3,432.1 1119.8,432.2 1123.3,432.4 1125.0,432.5 1126.8,432.7 1130.3,433.4 1133.8,434.6 1137.3,436.1 1140.0,437.5 1140.8,438.0 1144.3,441.3 1147.8,445.9 1151.3,450.9 1152.5,452.5 1154.8,456.0 1158.3,461.9 1161.8,467.6 1165.0,471.5 1165.3,471.8 1168.8,475.2 1172.3,477.8 1175.0,478.5 1175.8,478.5 1179.3,477.9 1182.8,476.8 1185.0,476.0 1186.3,475.1 1189.8,470.7 1193.3,465.9 1195.0,464.5 1196.8,463.4 1200.3,461.5 1203.8,460.1 1207.4,459.5 1207.5,459.5 1210.9,459.6 1214.4,459.9 1217.9,460.4 1221.4,461.0 1222.5,461.2 1224.9,462.2 1228.4,464.9 1231.9,468.6 1235.0,472.5 1235.4,473.0 1238.9,478.9 1242.4,486.5 1245.0,492.5 1245.9,494.5 1249.4,503.1 1252.9,512.2 1255.0,517.5 1256.4,520.6 1259.9,527.9 1262.5,535.0 1263.4,538.3 1266.9,556.6 1267.5,560.0 1270.4,575.6 1272.5,587.5 1273.9,595.2 1276.5,610.0 1277.4,614.9 1280.0,630.0 1280.9,635.8 1284.4,661.1 1285.0,665.0 1287.9,680.5 1290.0,690.0 1291.4,695.5 1294.9,708.3 1297.5,715.0 1298.4,716.6 1301.9,722.0 1305.0,725.0 1305.4,725.3 1308.9,727.5 1312.4,728.5 1312.5,728.5 1315.9,727.5 1319.4,725.1 1322.5,722.5 1322.9,722.2 1326.4,718.3 1329.9,713.2 1333.4,707.6 1335.0,705.0 1336.9,701.8 1340.4,695.4 1343.9,688.6 1347.4,682.0 1348.5,680.0 1350.9,675.8 1354.4,669.9 1357.9,664.1 1361.4,658.1 1362.0,657.0 1364.9,651.7 1368.4,645.0 1371.9,638.4 1375.0,633.0 1375.4,632.3 1378.9,626.6 1382.4,621.1 1385.9,616.1 1388.0,613.5 1389.4,611.9 1392.9,608.1 1396.4,604.7 1399.9,601.6 1403.4,598.9 1404.0,598.5 1406.9,596.4 1410.4,593.9 1413.9,591.7 1417.4,590.1 1420.0,589.5 1420.9,589.4 1424.4,589.1 1427.9,588.9 1431.4,588.8 1432.5,588.8 1434.9,589.0 1438.4,589.9 1441.9,591.2 1445.0,592.5 1445.4,592.7 1448.9,594.6 1452.4,597.0 1455.9,600.0 1459.4,603.4 1460.0,604.0 1462.9,608.1 1466.4,613.7 1467.5,615.0 1469.9,617.7 1473.4,621.2 1476.9,623.5 1477.5,623.8 1480.4,624.5 1483.9,625.2 1487.4,625.7 1490.0,626.2 1490.9,626.5 1494.4,627.3 1497.9,628.3 1501.4,629.5 1502.5,630.0 1504.9,631.5 1508.4,634.7 1512.0,639.2 1512.5,640.0 1515.5,646.0 1519.0,656.4 1520.0,660.0 1522.5,670.2 1526.0,688.4 1526.2,690.0 1529.5,709.1 1531.2,720.0 1533.0,730.1 1536.5,749.9 1537.5,755.0 1540.0,766.3 1543.5,780.3 1545.0,785.0 1547.0,790.1 1550.5,797.5 1552.5,800.0 1554.0,801.2 1557.5,803.5 1561.0,804.5 1561.2,804.5 1564.5,803.9 1568.0,802.4 1571.5,800.5 1572.5,800.0 1575.0,798.6 1578.5,796.4 1582.0,793.8 1585.5,791.1 1589.0,788.3 1590.0,787.5 1592.5,785.5 1596.0,782.5 1599.5,779.4 1603.0,776.3 1606.5,773.1 1610.0,770.0 1610.0,770.0 1613.5,767.0 1617.0,764.0 1620.5,761.1 1624.0,758.1 1627.5,755.0 1627.5,755.0 1631.0,751.8 1634.5,748.5 1638.0,745.2 1641.5,741.9 1645.0,738.8 1645.0,738.8 1648.5,735.7 1652.0,732.6 1655.5,729.6 1659.0,726.7 1662.5,723.8"/>
<polyline stroke="#922b92" stroke-width="8.2" points="143.0,784.5 146.5,783.8 150.0,783.1 153.5,782.3 157.0,781.6 160.5,780.9 164.0,780.2 165.0,780.0 167.5,779.5 171.0,778.9 174.5,778.2 178.0,777.6 181.5,776.9 185.0,776.2 188.5,775.4 190.0,775.0 192.0,774.5 195.5,773.4 199.0,772.3 202.5,771.0 206.0,769.7 209.5,768.4 213.0,767.0 215.0,766.2 216.5,765.6 220.0,764.0 223.5,762.3 227.0,760.6 230.5,759.1 234.0,757.8 235.0,757.5 237.5,756.8 241.0,755.9 244.5,755.1 248.0,754.4 251.5,753.9 252.5,753.8 255.0,753.5 258.5,753.2 262.0,752.9 265.5,752.7 269.0,752.5 272.5,752.4 276.0,752.2 279.5,752.0 283.0,751.8 286.5,751.5 290.0,751.2 290.0,751.2 293.5,750.9 297.1,750.5 300.6,750.0 304.1,749.5 307.6,748.9 311.1,748.3 314.6,747.6 315.0,747.5 318.1,746.8 321.6,745.8 325.1,744.7 328.6,743.5 332.1,742.2 335.6,740.7 339.1,739.2 340.0,738.8 342.6,737.5 346.1,735.6 349.6,733.5 353.1,731.2 356.6,728.7 360.1,726.2 363.6,723.6 365.0,722.5 367.1,720.9 370.6,718.0 374.1,715.0 377.6,711.8 381.1,708.5 384.6,705.2 388.1,701.8 390.0,700.0 391.6,698.5 395.1,694.9 398.6,691.2 402.1,687.6 405.6,684.1 409.1,680.8 410.0,680.0 412.6,677.7 416.1,674.7 419.6,671.9 423.1,669.6 425.0,668.8 426.6,668.1 430.1,666.9 433.6,665.9 437.1,665.5 437.5,665.5 440.6,665.9 444.1,667.1 447.6,668.7 450.0,670.0 451.1,670.6 454.6,673.4 458.1,677.1 461.6,681.1 465.0,685.0 465.1,685.1 468.6,689.3 472.1,693.8 475.6,698.5 479.1,703.1 482.6,707.4 485.0,710.0 486.1,711.1 489.6,714.6 493.1,717.9 496.6,721.0 500.1,723.9 503.6,726.5 505.0,727.5 507.1,728.9 510.6,731.1 514.1,733.2 517.6,735.1 521.1,736.9 524.6,738.6 525.0,738.8 528.1,740.2 531.6,741.7 535.1,743.2 538.6,744.6 542.1,745.9 545.6,747.2 549.1,748.4 550.0,748.8 552.6,749.7 556.1,750.9 559.6,752.0 563.1,753.1 566.6,754.1 570.0,755.0 570.1,755.0 573.6,755.9 577.1,756.7 580.6,757.4 584.1,757.9 585.0,758.0 587.6,758.3 591.1,758.6 594.6,758.8 598.1,759.1 601.7,759.3 605.2,759.4 608.7,759.5 610.0,759.5 612.2,759.5 615.7,759.5 619.2,759.4 622.7,759.3 626.2,759.2 629.7,759.0 633.2,758.8 635.0,758.8 636.7,758.6 640.2,758.2 643.7,757.6 647.2,756.8 650.7,756.0 654.2,755.1 657.7,754.3 660.0,753.8 661.2,753.5 664.7,752.7 668.2,751.8 671.7,751.0 675.2,750.2 678.7,749.7 680.0,749.5 682.2,749.3 685.7,748.9 689.2,748.6 692.7,748.4 696.2,748.3 697.5,748.2 699.7,748.3 703.2,748.5 706.7,748.9 710.2,749.3 713.7,749.8 715.0,750.0 717.2,750.3 720.7,750.9 724.2,751.5 727.7,752.2 731.2,752.9 734.7,753.7 738.2,754.6 740.0,755.0 741.7,755.5 745.2,756.6 748.7,757.8 752.2,759.1 755.7,760.2 759.2,761.1 760.0,761.2 762.7,761.7 766.2,762.3 769.7,762.9 773.2,763.4 776.7,763.6 780.0,763.8 780.2,763.7 783.7,763.6 787.2,763.3 790.7,762.9 794.2,762.3 797.7,761.7 800.0,761.2 801.2,761.0 804.7,760.1 808.2,759.0 811.7,757.6 815.2,756.1 817.5,755.0 818.7,754.4 822.2,752.3 825.7,749.7 829.2,746.8 832.5,743.8 832.7,743.5 836.2,739.8 839.7,735.4 843.2,730.3 845.0,727.5 846.7,724.4 850.2,717.0 853.7,708.4 855.0,705.0 857.2,698.5 860.7,686.7 862.5,680.0 864.2,672.5 867.7,655.0 868.8,650.0 871.2,637.5 873.8,625.0 874.7,620.3 878.2,603.9 879.0,600.0 881.7,583.4 885.0,562.5 885.2,561.1 888.7,541.4 892.2,521.5 892.5,520.0 895.7,498.5 897.5,487.5 899.2,477.8 902.8,460.1 905.0,450.0 906.3,444.8 909.8,431.6 912.5,422.5 913.3,420.2 916.8,410.4 920.0,402.5 920.3,401.9 923.8,394.2 927.3,387.3 930.0,382.5 930.8,381.3 934.3,375.9 937.8,371.3 940.0,368.8 941.3,367.5 944.8,364.2 948.3,361.3 951.8,359.1 952.5,358.8 955.3,357.4 958.8,355.8 962.3,354.5 965.8,353.5 969.3,353.0 970.0,353.0 972.8,353.3 976.3,354.5 979.8,356.2 982.5,357.5 983.3,357.9 986.8,359.7 990.0,362.0 990.3,362.2 993.8,366.1 997.3,371.3 1000.8,376.6 1002.5,379.0 1004.3,381.6 1007.8,386.7 1010.0,388.8 1011.3,389.4 1014.8,390.9 1018.3,392.0 1021.8,392.5 1022.5,392.5 1025.3,392.3 1028.8,391.7 1032.3,390.6 1035.8,389.4 1037.5,388.8 1039.3,387.9 1042.8,385.4 1046.3,382.3 1049.8,379.2 1050.0,379.0 1053.3,376.1 1056.8,372.9 1060.3,369.5 1063.8,366.2 1065.0,365.0 1067.3,362.8 1070.8,359.7 1074.3,356.5 1077.8,353.0 1081.3,349.0 1082.5,347.5 1084.8,344.1 1088.3,338.0 1091.8,331.2 1095.0,325.0 1095.3,324.4 1098.8,317.3 1102.3,309.9 1105.8,302.9 1107.5,300.0 1109.3,297.2 1112.8,292.6 1116.3,288.1 1119.8,282.8 1120.0,282.5 1123.3,275.9 1126.8,267.8 1130.0,260.0 1130.3,259.2 1133.8,249.4 1137.3,240.4 1137.5,240.0 1140.8,233.2 1144.3,228.3 1145.0,228.0 1147.8,227.2 1151.3,226.5 1154.8,226.3 1155.0,226.2 1158.3,227.1 1161.8,229.4 1165.3,232.2 1167.5,233.8 1168.8,234.7 1172.3,237.9 1175.8,241.2 1179.3,243.4 1181.2,243.8 1182.8,243.5 1186.3,241.6 1189.8,238.9 1190.0,238.8 1193.3,234.8 1196.8,229.1 1200.3,223.1 1202.5,220.0 1203.8,218.3 1207.4,214.1 1210.9,210.2 1214.4,206.8 1215.0,206.2 1217.9,203.7 1221.4,200.6 1224.9,198.3 1227.5,197.5 1228.4,197.4 1231.9,197.2 1235.4,197.0 1237.5,197.0 1238.9,197.2 1242.4,199.4 1245.9,203.1 1247.5,205.0 1249.4,207.8 1252.9,215.5 1256.4,224.6 1257.5,227.5 1259.9,233.6 1263.4,243.2 1266.9,253.2 1267.5,255.0 1270.4,263.2 1273.9,273.3 1277.4,284.6 1277.5,285.0 1280.9,297.7 1284.4,312.3 1285.0,315.0 1287.9,327.9 1291.4,344.6 1292.5,350.0 1294.9,362.4 1298.4,379.5 1298.5,380.0 1301.9,392.6 1305.0,400.0 1305.4,400.5 1308.9,404.0 1312.4,406.3 1315.0,407.0 1315.9,407.1 1319.4,407.3 1322.9,407.5 1325.0,407.5 1326.4,407.3 1329.9,405.4 1333.4,402.6 1335.0,401.5 1336.9,400.2 1340.4,397.7 1343.9,395.2 1347.4,393.1 1347.5,393.0 1350.9,391.3 1354.4,389.9 1357.9,388.5 1361.4,387.1 1364.9,385.5 1365.0,385.5 1368.4,383.9 1371.9,382.1 1375.4,380.2 1378.9,377.8 1380.0,377.0 1382.4,374.7 1385.9,370.4 1389.4,365.7 1390.0,365.0 1392.9,361.0 1396.4,356.0 1399.9,352.6 1400.0,352.5 1403.4,350.6 1406.9,349.5 1407.5,349.5 1410.4,350.4 1413.9,352.9 1415.0,353.8 1417.4,355.7 1420.9,359.2 1424.4,363.4 1427.5,367.5 1427.9,368.1 1431.4,374.0 1434.9,380.9 1435.0,381.0 1438.4,388.9 1441.9,396.6 1442.5,397.5 1445.4,402.0 1448.9,406.7 1452.4,408.7 1452.5,408.8 1455.9,408.5 1459.4,407.7 1462.9,406.8 1465.0,406.2 1466.4,405.9 1469.9,404.8 1473.4,403.7 1476.9,402.4 1480.0,401.2 1480.4,401.1 1483.9,399.7 1487.4,398.3 1490.9,396.8 1494.4,395.3 1495.0,395.0 1497.9,393.7 1501.4,392.0 1504.9,390.3 1508.4,388.4 1510.0,387.5 1512.0,386.1 1515.5,382.9 1519.0,380.7 1520.0,380.5 1522.5,381.9 1526.0,387.2 1527.5,390.0 1529.5,394.7 1532.5,405.0 1533.0,406.8 1536.5,424.2 1537.5,430.0 1540.0,445.6 1542.5,462.5 1543.5,468.4 1547.0,489.2 1547.5,492.5 1550.5,512.6 1552.5,525.0 1554.0,533.4 1555.0,536.2 1557.5,536.2 1561.0,536.2 1562.5,536.2 1564.5,535.2 1568.0,529.4 1571.5,522.0 1572.5,520.0 1575.0,515.3 1578.5,508.2 1582.0,500.9 1585.0,495.0 1585.5,494.1 1589.0,486.5 1592.5,480.7 1593.8,480.0 1596.0,479.8 1599.5,479.5 1601.2,479.5 1603.0,480.3 1606.5,485.7 1610.0,492.5 1610.0,492.5 1613.5,499.4 1617.0,507.4 1620.5,515.6 1622.5,520.0 1624.0,523.2 1627.5,530.7 1631.0,537.5 1632.5,540.0 1634.5,543.1 1638.0,548.1 1641.5,551.8 1642.5,552.5 1645.0,553.8 1648.5,555.3 1652.0,556.2 1652.5,556.2 1655.5,556.6 1659.0,556.9 1662.5,557.0"/>
<polyline stroke="#922b92" stroke-width="9" shape-rendering="crispEdges" points="143.0,784.5 146.5,783.8 150.0,783.1 153.5,782.3 157.0,781.6 160.5,780.9 164.0,780.2 165.0,780.0 167.5,779.5 171.0,778.9 174.5,778.2 178.0,777.6 181.5,776.9 185.0,776.2 188.5,775.4 190.0,775.0 192.0,774.5 195.5,773.4 199.0,772.3 202.5,771.0 206.0,769.7 209.5,768.4 213.0,767.0 215.0,766.2 216.5,765.6 220.0,764.0 223.5,762.3 227.0,760.6 230.5,759.1 234.0,757.8 235.0,757.5 237.5,756.8 241.0,755.9 244.5,755.1 248.0,754.4 251.5,753.9 252.5,753.8 255.0,753.5 258.5,753.2 262.0,752.9 265.5,752.7 269.0,752.5 272.5,752.4 276.0,752.2 279.5,752.0 283.0,751.8 286.5,751.5 290.0,751.2 290.0,751.2 293.5,750.9 297.1,750.5 300.6,750.0 304.1,749.5 307.6,748.9 311.1,748.3 314.6,747.6 315.0,747.5 318.1,746.8 321.6,745.8 325.1,744.7 328.6,743.5 332.1,742.2 335.6,740.7 339.1,739.2 340.0,738.8 342.6,737.5 346.1,735.6 349.6,733.5 353.1,731.2 356.6,728.7 360.1,726.2 363.6,723.6 365.0,722.5 367.1,720.9 370.6,718.0 374.1,715.0 377.6,711.8 381.1,708.5 384.6,705.2 388.1,701.8 390.0,700.0 391.6,698.5 395.1,694.9 398.6,691.2 402.1,687.6 405.6,684.1 409.1,680.8 410.0,680.0 412.6,677.7 416.1,674.7 419.6,671.9 423.1,669.6 425.0,668.8 426.6,668.1 430.1,666.9 433.6,665.9 437.1,665.5 437.5,665.5 440.6,665.9 444.1,667.1 447.6,668.7 450.0,670.0 451.1,670.6 454.6,673.4 458.1,677.1 461.6,681.1 465.0,685.0 465.1,685.1 468.6,689.3 472.1,693.8 475.6,698.5 479.1,703.1 482.6,707.4 485.0,710.0 486.1,711.1 489.6,714.6 493.1,717.9 496.6,721.0 500.1,723.9 503.6,726.5 505.0,727.5 507.1,728.9 510.6,731.1 514.1,733.2 517.6,735.1 521.1,736.9 524.6,738.6 525.0,738.8 528.1,740.2 531.6,741.7 535.1,743.2 538.6,744.6 542.1,745.9 545.6,747.2 549.1,748.4 550.0,748.8 552.6,749.7 556.1,750.9 559.6,752.0 563.1,753.1 566.6,754.1 570.0,755.0 570.1,755.0 573.6,755.9 577.1,756.7 580.6,757.4 584.1,757.9 585.0,758.0 587.6,758.3 591.1,758.6 594.6,758.8 598.1,759.1 601.7,759.3 605.2,759.4 608.7,759.5 610.0,759.5 612.2,759.5 615.7,759.5 619.2,759.4 622.7,759.3 626.2,759.2 629.7,759.0 633.2,758.8 635.0,758.8 636.7,758.6 640.2,758.2 643.7,757.6 647.2,756.8 650.7,756.0 654.2,755.1 657.7,754.3 660.0,753.8 661.2,753.5 664.7,752.7 668.2,751.8 671.7,751.0 675.2,750.2 678.7,749.7 680.0,749.5 682.2,749.3 685.7,748.9 689.2,748.6 692.7,748.4 696.2,748.3 697.5,748.2 699.7,748.3 703.2,748.5 706.7,748.9 710.2,749.3 713.7,749.8 715.0,750.0 717.2,750.3 720.7,750.9 724.2,751.5 727.7,752.2 731.2,752.9 734.7,753.7 738.2,754.6 740.0,755.0 741.7,755.5 745.2,756.6 748.7,757.8 752.2,759.1 755.7,760.2 759.2,761.1 760.0,761.2 762.7,761.7 766.2,762.3 769.7,762.9 773.2,763.4 776.7,763.6 780.0,763.8 780.2,763.7 783.7,763.6 787.2,763.3 790.7,762.9 794.2,762.3 797.7,761.7 800.0,761.2 801.2,761.0 804.7,760.1 808.2,759.0 811.7,757.6 815.2,756.1 817.5,755.0 818.7,754.4 822.2,752.3 825.7,749.7 829.2,746.8 832.5,743.8 832.7,743.5 836.2,739.8 839.7,735.4 843.2,730.3 845.0,727.5 846.7,724.4 850.2,717.0 853.7,708.4 855.0,705.0 857.2,698.5 860.7,686.7 862.5,680.0 864.2,672.5 867.7,655.0 868.8,650.0 871.2,637.5 873.8,625.0 874.7,620.3 878.2,603.9 879.0,600.0 881.7,583.4 885.0,562.5 885.2,561.1 888.7,541.4 892.2,521.5 892.5,520.0 895.7,498.5 897.5,487.5 899.2,477.8 902.8,460.1 905.0,450.0 906.3,444.8 909.8,431.6 912.5,422.5 913.3,420.2 916.8,410.4 920.0,402.5 920.3,401.9 923.8,394.2 927.3,387.3 930.0,382.5 930.8,381.3 934.3,375.9 937.8,371.3 940.0,368.8 941.3,367.5 944.8,364.2 948.3,361.3 951.8,359.1 952.5,358.8 955.3,357.4 958.8,355.8 962.3,354.5 965.8,353.5 969.3,353.0 970.0,353.0 972.8,353.3 976.3,354.5 979.8,356.2 982.5,357.5 983.3,357.9 986.8,359.7 990.0,362.0 990.3,362.2 993.8,366.1 997.3,371.3 1000.8,376.6 1002.5,379.0 1004.3,381.6 1007.8,386.7 1010.0,388.8 1011.3,389.4 1014.8,390.9 1018.3,392.0 1021.8,392.5 1022.5,392.5 1025.3,392.3 1028.8,391.7 1032.3,390.6 1035.8,389.4 1037.5,388.8 1039.3,387.9 1042.8,385.4 1046.3,382.3 1049.8,379.2 1050.0,379.0 1053.3,376.1 1056.8,372.9 1060.3,369.5 1063.8,366.2 1065.0,365.0 1067.3,362.8 1070.8,359.7 1074.3,356.5 1077.8,353.0 1081.3,349.0 1082.5,347.5 1084.8,344.1 1088.3,338.0 1091.8,331.2 1095.0,325.0 1095.3,324.4 1098.8,317.3 1102.3,309.9 1105.8,302.9 1107.5,300.0 1109.3,297.2 1112.8,292.6 1116.3,288.1 1119.8,282.8 1120.0,282.5 1123.3,275.9 1126.8,267.8 1130.0,260.0 1130.3,259.2 1133.8,249.4 1137.3,240.4 1137.5,240.0 1140.8,233.2 1144.3,228.3 1145.0,228.0 1147.8,227.2 1151.3,226.5 1154.8,226.3 1155.0,226.2 1158.3,227.1 1161.8,229.4 1165.3,232.2 1167.5,233.8 1168.8,234.7 1172.3,237.9 1175.8,241.2 1179.3,243.4 1181.2,243.8 1182.8,243.5 1186.3,241.6 1189.8,238.9 1190.0,238.8 1193.3,234.8 1196.8,229.1 1200.3,223.1 1202.5,220.0 1203.8,218.3 1207.4,214.1 1210.9,210.2 1214.4,206.8 1215.0,206.2 1217.9,203.7 1221.4,200.6 1224.9,198.3 1227.5,197.5 1228.4,197.4 1231.9,197.2 1235.4,197.0 1237.5,197.0 1238.9,197.2 1242.4,199.4 1245.9,203.1 1247.5,205.0 1249.4,207.8 1252.9,215.5 1256.4,224.6 1257.5,227.5 1259.9,233.6 1263.4,243.2 1266.9,253.2 1267.5,255.0 1270.4,263.2 1273.9,273.3 1277.4,284.6 1277.5,285.0 1280.9,297.7 1284.4,312.3 1285.0,315.0 1287.9,327.9 1291.4,344.6 1292.5,350.0 1294.9,362.4 1298.4,379.5 1298.5,380.0 1301.9,392.6 1305.0,400.0 1305.4,400.5 1308.9,404.0 1312.4,406.3 1315.0,407.0 1315.9,407.1 1319.4,407.3 1322.9,407.5 1325.0,407.5 1326.4,407.3 1329.9,405.4 1333.4,402.6 1335.0,401.5 1336.9,400.2 1340.4,397.7 1343.9,395.2 1347.4,393.1 1347.5,393.0 1350.9,391.3 1354.4,389.9 1357.9,388.5 1361.4,387.1 1364.9,385.5 1365.0,385.5 1368.4,383.9 1371.9,382.1 1375.4,380.2 1378.9,377.8 1380.0,377.0 1382.4,374.7 1385.9,370.4 1389.4,365.7 1390.0,365.0 1392.9,361.0 1396.4,356.0 1399.9,352.6 1400.0,352.5 1403.4,350.6 1406.9,349.5 1407.5,349.5 1410.4,350.4 1413.9,352.9 1415.0,353.8 1417.4,355.7 1420.9,359.2 1424.4,363.4 1427.5,367.5 1427.9,368.1 1431.4,374.0 1434.9,380.9 1435.0,381.0 1438.4,388.9 1441.9,396.6 1442.5,397.5 1445.4,402.0 1448.9,406.7 1452.4,408.7 1452.5,408.8 1455.9,408.5 1459.4,407.7 1462.9,406.8 1465.0,406.2 1466.4,405.9 1469.9,404.8 1473.4,403.7 1476.9,402.4 1480.0,401.2 1480.4,401.1 1483.9,399.7 1487.4,398.3 1490.9,396.8 1494.4,395.3 1495.0,395.0 1497.9,393.7 1501.4,392.0 1504.9,390.3 1508.4,388.4 1510.0,387.5 1512.0,386.1 1515.5,382.9 1519.0,380.7 1520.0,380.5 1522.5,381.9 1526.0,387.2 1527.5,390.0 1529.5,394.7 1532.5,405.0 1533.0,406.8 1536.5,424.2 1537.5,430.0 1540.0,445.6 1542.5,462.5 1543.5,468.4 1547.0,489.2 1547.5,492.5 1550.5,512.6 1552.5,525.0 1554.0,533.4 1555.0,536.2 1557.5,536.2 1561.0,536.2 1562.5,536.2 1564.5,535.2 1568.0,529.4 1571.5,522.0 1572.5,520.0 1575.0,515.3 1578.5,508.2 1582.0,500.9 1585.0,495.0 1585.5,494.1 1589.0,486.5 1592.5,480.7 1593.8,480.0 1596.0,479.8 1599.5,479.5 1601.2,479.5 1603.0,480.3 1606.5,485.7 1610.0,492.5 1610.0,492.5 1613.5,499.4 1617.0,507.4 1620.5,515.6 1622.5,520.0 1624.0,523.2 1627.5,530.7 1631.0,537.5 1632.5,540.0 1634.5,543.1 1638.0,548.1 1641.5,551.8 1642.5,552.5 1645.0,553.8 1648.5,555.3 1652.0,556.2 1652.5,556.2 1655.5,556.6 1659.0,556.9 1662.5,557.0"/>
<polyline stroke="#4eaa06" stroke-width="1.2" points="143.0,812.0 146.5,812.0 150.0,811.9 153.5,811.9 157.0,811.9 160.5,811.8 164.0,811.8 167.5,811.7 171.0,811.6 174.5,811.6 178.0,811.5 181.5,811.5 185.0,811.4 188.5,811.3 192.0,811.2 195.5,811.2 199.0,811.1 202.5,811.0 206.0,810.9 209.5,810.8 213.0,810.7 216.5,810.6 220.0,810.5 223.5,810.5 227.0,810.4 230.5,810.3 234.0,810.2 237.5,810.1 240.0,810.0 241.0,810.0 244.5,809.9 248.0,809.8 251.5,809.6 255.0,809.5 258.5,809.4 262.0,809.2 265.5,809.1 269.0,809.0 272.5,808.8 276.0,808.6 279.5,808.5 283.0,808.3 286.5,808.2 290.0,808.0 290.0,808.0 293.5,807.8 297.1,807.6 300.6,807.5 304.1,807.3 307.6,807.1 311.1,806.9 314.6,806.6 318.1,806.4 321.6,806.2 325.1,806.0 328.6,805.8 332.1,805.5 335.6,805.3 339.1,805.1 340.0,805.0 342.6,804.8 346.1,804.6 349.6,804.4 353.1,804.1 356.6,803.9 360.1,803.7 363.6,803.4 367.1,803.2 370.6,802.9 374.1,802.6 377.6,802.4 381.1,802.1 384.6,801.8 388.1,801.4 390.0,801.2 391.6,801.1 395.1,800.7 398.6,800.3 402.1,799.9 405.6,799.4 409.1,798.9 412.6,798.4 415.0,798.0 416.1,797.8 419.6,797.2 423.1,796.5 426.6,795.8 430.1,795.0 433.6,794.2 437.1,793.3 440.0,792.5 440.6,792.3 444.1,791.4 447.6,790.3 451.1,789.2 454.6,788.0 458.1,786.7 461.6,785.2 465.0,783.8 465.1,783.7 468.6,781.9 472.1,779.8 475.6,777.5 477.5,776.2 479.1,775.2 482.6,772.9 486.1,770.4 489.6,767.8 490.0,767.5 493.1,764.9 496.6,761.7 500.1,758.4 502.5,756.2 503.6,755.2 507.1,752.1 510.6,748.9 514.1,745.8 515.0,745.0 517.6,742.6 521.1,739.5 524.6,736.3 527.5,733.8 528.1,733.2 531.6,729.9 535.1,726.7 538.6,723.6 540.0,722.5 542.1,720.8 545.6,718.2 549.1,715.8 552.5,713.8 552.6,713.7 556.1,711.9 559.6,710.3 563.1,708.8 565.0,708.0 566.6,707.3 570.1,705.9 573.6,704.6 577.1,703.4 580.0,702.5 580.6,702.3 584.1,701.3 587.6,700.4 591.1,699.5 594.6,698.7 598.1,697.9 600.0,697.5 601.7,697.2 605.2,696.5 608.7,695.8 612.2,695.2 615.7,694.5 619.2,693.9 622.7,693.4 626.2,692.8 629.7,692.2 633.2,691.6 635.0,691.2 636.7,691.0 640.2,690.4 643.7,689.8 647.2,689.2 650.7,688.6 654.2,688.0 657.7,687.4 661.2,686.8 664.7,686.2 668.2,685.6 671.7,685.0 675.2,684.4 678.7,683.7 682.2,683.1 685.0,682.5 685.7,682.4 689.2,681.6 692.7,680.9 696.2,680.1 699.7,679.3 703.2,678.5 706.7,677.7 710.2,676.9 713.7,676.0 717.2,675.1 720.7,674.2 722.5,673.8 724.2,673.3 727.7,672.4 731.2,671.4 734.7,670.4 738.2,669.3 741.7,668.3 745.2,667.2 748.7,666.1 752.2,665.0 755.7,663.9 759.2,662.8 760.0,662.5 762.7,661.6 766.2,660.4 769.7,659.2 773.2,658.0 776.7,656.7 780.2,655.4 783.7,654.2 785.0,653.8 787.2,653.0 790.7,651.7 794.2,650.4 797.7,649.1 801.2,647.9 804.7,646.7 808.2,645.5 810.0,645.0 811.7,644.5 815.2,643.6 818.7,642.8 822.2,642.0 825.7,641.1 829.2,640.2 830.0,640.0 832.7,639.2 836.2,637.9 839.7,636.6 843.2,635.3 846.7,634.1 850.2,633.0 852.5,632.5 853.7,632.3 857.2,631.6 860.7,631.0 864.2,630.5 867.7,630.0 871.2,629.6 872.5,629.5 874.7,629.3 878.2,628.9 881.7,628.5 885.2,628.1 888.7,627.9 892.2,627.6 895.7,627.5 897.5,627.5 899.2,627.5 902.8,627.5 906.3,627.5 909.8,627.5 913.3,627.5 916.8,627.5 920.3,627.5 922.5,627.5 923.8,627.5 927.3,627.6 930.8,627.9 934.3,628.3 937.8,628.7 941.3,629.2 944.8,629.7 947.5,630.0 948.3,630.1 951.8,630.5 955.3,630.9 958.8,631.4 962.3,631.9 965.8,632.4 969.3,633.1 972.5,633.8 972.8,633.8 976.3,634.9 979.8,636.3 983.3,637.9 986.8,639.6 990.0,641.0 990.3,641.1 993.8,642.9 997.3,644.8 1000.8,646.1 1002.5,646.2 1004.3,646.2 1007.8,646.2 1011.3,646.2 1014.8,646.2 1015.0,646.2 1018.3,645.7 1021.8,644.3 1025.3,642.5 1027.5,641.2 1028.8,640.5 1032.3,638.1 1035.8,635.2 1039.3,631.9 1040.0,631.2 1042.8,628.2 1046.3,623.8 1049.8,618.9 1053.3,613.7 1055.0,611.0 1056.8,608.1 1060.3,601.9 1063.8,595.2 1067.3,588.2 1070.8,581.1 1074.3,573.9 1077.5,567.5 1077.8,566.9 1081.3,559.9 1084.8,552.8 1088.3,545.8 1091.8,538.8 1095.0,532.5 1095.3,531.9 1098.8,525.1 1102.3,518.2 1105.8,511.5 1109.3,505.0 1112.8,498.7 1115.0,495.0 1116.3,492.8 1119.8,487.3 1123.3,482.0 1126.8,476.9 1130.0,472.5 1130.3,472.1 1133.8,467.3 1137.3,462.6 1140.8,458.1 1144.3,453.8 1147.8,449.8 1150.0,447.5 1151.3,446.1 1154.8,442.7 1158.3,439.4 1161.8,436.3 1165.3,433.4 1168.8,430.8 1170.0,430.0 1172.3,428.4 1175.8,426.2 1179.3,424.1 1182.8,422.2 1186.3,420.4 1189.8,418.8 1190.0,418.8 1193.3,417.3 1196.8,415.9 1200.3,414.5 1203.8,413.3 1207.4,412.1 1210.9,411.1 1214.4,410.2 1215.0,410.0 1217.9,409.3 1221.4,408.5 1224.9,407.7 1228.4,407.0 1231.9,406.4 1235.4,405.9 1238.9,405.6 1240.0,405.5 1242.4,405.3 1245.9,405.1 1249.4,404.9 1252.9,404.8 1256.4,404.6 1259.9,404.6 1263.4,404.5 1265.0,404.5 1266.9,404.6 1270.4,405.0 1273.9,405.6 1277.4,406.2 1277.5,406.2 1280.9,407.0 1284.4,408.0 1287.9,408.9 1291.4,409.5 1292.5,409.5 1294.9,409.4 1298.4,408.8 1301.9,407.9 1305.4,407.0 1308.9,406.2 1310.0,406.0 1312.4,405.7 1315.9,405.2 1319.4,404.7 1322.9,404.3 1326.4,403.9 1329.9,403.6 1333.4,403.2 1336.9,403.0 1340.0,402.8 1340.4,402.7 1343.9,402.5 1347.4,402.4 1350.9,402.2 1354.4,402.1 1357.9,401.9 1361.4,401.8 1364.9,401.6 1365.0,401.6 1368.4,401.4 1371.9,401.2 1375.4,401.0 1378.9,400.8 1382.4,400.6 1385.9,400.4 1389.4,400.2 1390.0,400.2 1392.9,400.0 1396.4,399.8 1399.9,399.6 1403.4,399.4 1406.9,399.2 1410.4,399.0 1413.9,398.8 1415.0,398.8 1417.4,398.7 1420.9,398.5 1424.4,398.4 1427.9,398.2 1431.4,398.1 1434.9,398.0 1438.4,397.9 1440.0,397.9 1441.9,397.9 1445.4,397.9 1448.9,398.0 1452.4,398.0 1455.9,398.1 1459.4,398.2 1462.9,398.2 1465.0,398.3 1466.4,398.3 1469.9,398.5 1473.4,398.7 1476.9,399.0 1480.4,399.3 1483.9,399.7 1487.4,400.0 1490.0,400.2 1490.9,400.3 1494.4,400.5 1497.9,400.8 1501.4,401.1 1504.9,401.3 1508.4,401.7 1512.0,402.1 1515.0,402.5 1515.5,402.6 1519.0,403.2 1522.5,404.0 1526.0,405.4 1527.5,406.2 1529.5,409.0 1531.0,412.0 1533.0,415.3 1536.5,421.6 1537.5,423.8 1540.0,430.4 1542.5,437.5 1543.5,439.8 1545.5,443.8 1547.0,445.0 1549.0,446.2 1550.5,447.0 1553.8,448.0 1554.0,448.0 1556.5,444.5 1557.5,443.2 1561.0,438.2 1562.5,436.2 1564.5,434.0 1568.0,430.2 1571.5,426.9 1575.0,423.8 1575.0,423.8 1578.5,421.0 1582.0,418.6 1585.0,416.5 1585.5,416.2 1589.0,413.8 1590.0,413.2 1592.5,411.9 1596.0,410.1 1599.5,408.8 1600.0,408.6 1603.0,407.8 1606.5,407.0 1610.0,406.3 1613.5,405.7 1615.0,405.5 1617.0,405.2 1620.5,404.8 1624.0,404.4 1627.5,404.1 1630.0,403.8 1631.0,403.7 1634.5,403.3 1638.0,402.8 1640.0,402.6 1641.5,402.4 1645.0,402.1 1648.5,401.7 1652.0,401.4 1655.5,401.1 1659.0,400.8 1662.5,400.5"/>
<polyline stroke="#4eaa06" stroke-width="2" shape-rendering="crispEdges" points="143.0,812.0 146.5,812.0 150.0,811.9 153.5,811.9 157.0,811.9 160.5,811.8 164.0,811.8 167.5,811.7 171.0,811.6 174.5,811.6 178.0,811.5 181.5,811.5 185.0,811.4 188.5,811.3 192.0,811.2 195.5,811.2 199.0,811.1 202.5,811.0 206.0,810.9 209.5,810.8 213.0,810.7 216.5,810.6 220.0,810.5 223.5,810.5 227.0,810.4 230.5,810.3 234.0,810.2 237.5,810.1 240.0,810.0 241.0,810.0 244.5,809.9 248.0,809.8 251.5,809.6 255.0,809.5 258.5,809.4 262.0,809.2 265.5,809.1 269.0,809.0 272.5,808.8 276.0,808.6 279.5,808.5 283.0,808.3 286.5,808.2 290.0,808.0 290.0,808.0 293.5,807.8 297.1,807.6 300.6,807.5 304.1,807.3 307.6,807.1 311.1,806.9 314.6,806.6 318.1,806.4 321.6,806.2 325.1,806.0 328.6,805.8 332.1,805.5 335.6,805.3 339.1,805.1 340.0,805.0 342.6,804.8 346.1,804.6 349.6,804.4 353.1,804.1 356.6,803.9 360.1,803.7 363.6,803.4 367.1,803.2 370.6,802.9 374.1,802.6 377.6,802.4 381.1,802.1 384.6,801.8 388.1,801.4 390.0,801.2 391.6,801.1 395.1,800.7 398.6,800.3 402.1,799.9 405.6,799.4 409.1,798.9 412.6,798.4 415.0,798.0 416.1,797.8 419.6,797.2 423.1,796.5 426.6,795.8 430.1,795.0 433.6,794.2 437.1,793.3 440.0,792.5 440.6,792.3 444.1,791.4 447.6,790.3 451.1,789.2 454.6,788.0 458.1,786.7 461.6,785.2 465.0,783.8 465.1,783.7 468.6,781.9 472.1,779.8 475.6,777.5 477.5,776.2 479.1,775.2 482.6,772.9 486.1,770.4 489.6,767.8 490.0,767.5 493.1,764.9 496.6,761.7 500.1,758.4 502.5,756.2 503.6,755.2 507.1,752.1 510.6,748.9 514.1,745.8 515.0,745.0 517.6,742.6 521.1,739.5 524.6,736.3 527.5,733.8 528.1,733.2 531.6,729.9 535.1,726.7 538.6,723.6 540.0,722.5 542.1,720.8 545.6,718.2 549.1,715.8 552.5,713.8 552.6,713.7 556.1,711.9 559.6,710.3 563.1,708.8 565.0,708.0 566.6,707.3 570.1,705.9 573.6,704.6 577.1,703.4 580.0,702.5 580.6,702.3 584.1,701.3 587.6,700.4 591.1,699.5 594.6,698.7 598.1,697.9 600.0,697.5 601.7,697.2 605.2,696.5 608.7,695.8 612.2,695.2 615.7,694.5 619.2,693.9 622.7,693.4 626.2,692.8 629.7,692.2 633.2,691.6 635.0,691.2 636.7,691.0 640.2,690.4 643.7,689.8 647.2,689.2 650.7,688.6 654.2,688.0 657.7,687.4 661.2,686.8 664.7,686.2 668.2,685.6 671.7,685.0 675.2,684.4 678.7,683.7 682.2,683.1 685.0,682.5 685.7,682.4 689.2,681.6 692.7,680.9 696.2,680.1 699.7,679.3 703.2,678.5 706.7,677.7 710.2,676.9 713.7,676.0 717.2,675.1 720.7,674.2 722.5,673.8 724.2,673.3 727.7,672.4 731.2,671.4 734.7,670.4 738.2,669.3 741.7,668.3 745.2,667.2 748.7,666.1 752.2,665.0 755.7,663.9 759.2,662.8 760.0,662.5 762.7,661.6 766.2,660.4 769.7,659.2 773.2,658.0 776.7,656.7 780.2,655.4 783.7,654.2 785.0,653.8 787.2,653.0 790.7,651.7 794.2,650.4 797.7,649.1 801.2,647.9 804.7,646.7 808.2,645.5 810.0,645.0 811.7,644.5 815.2,643.6 818.7,642.8 822.2,642.0 825.7,641.1 829.2,640.2 830.0,640.0 832.7,639.2 836.2,637.9 839.7,636.6 843.2,635.3 846.7,634.1 850.2,633.0 852.5,632.5 853.7,632.3 857.2,631.6 860.7,631.0 864.2,630.5 867.7,630.0 871.2,629.6 872.5,629.5 874.7,629.3 878.2,628.9 881.7,628.5 885.2,628.1 888.7,627.9 892.2,627.6 895.7,627.5 897.5,627.5 899.2,627.5 902.8,627.5 906.3,627.5 909.8,627.5 913.3,627.5 916.8,627.5 920.3,627.5 922.5,627.5 923.8,627.5 927.3,627.6 930.8,627.9 934.3,628.3 937.8,628.7 941.3,629.2 944.8,629.7 947.5,630.0 948.3,630.1 951.8,630.5 955.3,630.9 958.8,631.4 962.3,631.9 965.8,632.4 969.3,633.1 972.5,633.8 972.8,633.8 976.3,634.9 979.8,636.3 983.3,637.9 986.8,639.6 990.0,641.0 990.3,641.1 993.8,642.9 997.3,644.8 1000.8,646.1 1002.5,646.2 1004.3,646.2 1007.8,646.2 1011.3,646.2 1014.8,646.2 1015.0,646.2 1018.3,645.7 1021.8,644.3 1025.3,642.5 1027.5,641.2 1028.8,640.5 1032.3,638.1 1035.8,635.2 1039.3,631.9 1040.0,631.2 1042.8,628.2 1046.3,623.8 1049.8,618.9 1053.3,613.7 1055.0,611.0 1056.8,608.1 1060.3,601.9 1063.8,595.2 1067.3,588.2 1070.8,581.1 1074.3,573.9 1077.5,567.5 1077.8,566.9 1081.3,559.9 1084.8,552.8 1088.3,545.8 1091.8,538.8 1095.0,532.5 1095.3,531.9 1098.8,525.1 1102.3,518.2 1105.8,511.5 1109.3,505.0 1112.8,498.7 1115.0,495.0 1116.3,492.8 1119.8,487.3 1123.3,482.0 1126.8,476.9 1130.0,472.5 1130.3,472.1 1133.8,467.3 1137.3,462.6 1140.8,458.1 1144.3,453.8 1147.8,449.8 1150.0,447.5 1151.3,446.1 1154.8,442.7 1158.3,439.4 1161.8,436.3 1165.3,433.4 1168.8,430.8 1170.0,430.0 1172.3,428.4 1175.8,426.2 1179.3,424.1 1182.8,422.2 1186.3,420.4 1189.8,418.8 1190.0,418.8 1193.3,417.3 1196.8,415.9 1200.3,414.5 1203.8,413.3 1207.4,412.1 1210.9,411.1 1214.4,410.2 1215.0,410.0 1217.9,409.3 1221.4,408.5 1224.9,407.7 1228.4,407.0 1231.9,406.4 1235.4,405.9 1238.9,405.6 1240.0,405.5 1242.4,405.3 1245.9,405.1 1249.4,404.9 1252.9,404.8 1256.4,404.6 1259.9,404.6 1263.4,404.5 1265.0,404.5 1266.9,404.6 1270.4,405.0 1273.9,405.6 1277.4,406.2 1277.5,406.2 1280.9,407.0 1284.4,408.0 1287.9,408.9 1291.4,409.5 1292.5,409.5 1294.9,409.4 1298.4,408.8 1301.9,407.9 1305.4,407.0 1308.9,406.2 1310.0,406.0 1312.4,405.7 1315.9,405.2 1319.4,404.7 1322.9,404.3 1326.4,403.9 1329.9,403.6 1333.4,403.2 1336.9,403.0 1340.0,402.8 1340.4,402.7 1343.9,402.5 1347.4,402.4 1350.9,402.2 1354.4,402.1 1357.9,401.9 1361.4,401.8 1364.9,401.6 1365.0,401.6 1368.4,401.4 1371.9,401.2 1375.4,401.0 1378.9,400.8 1382.4,400.6 1385.9,400.4 1389.4,400.2 1390.0,400.2 1392.9,400.0 1396.4,399.8 1399.9,399.6 1403.4,399.4 1406.9,399.2 1410.4,399.0 1413.9,398.8 1415.0,398.8 1417.4,398.7 1420.9,398.5 1424.4,398.4 1427.9,398.2 1431.4,398.1 1434.9,398.0 1438.4,397.9 1440.0,397.9 1441.9,397.9 1445.4,397.9 1448.9,398.0 1452.4,398.0 1455.9,398.1 1459.4,398.2 1462.9,398.2 1465.0,398.3 1466.4,398.3 1469.9,398.5 1473.4,398.7 1476.9,399.0 1480.4,399.3 1483.9,399.7 1487.4,400.0 1490.0,400.2 1490.9,400.3 1494.4,400.5 1497.9,400.8 1501.4,401.1 1504.9,401.3 1508.4,401.7 1512.0,402.1 1515.0,402.5 1515.5,402.6 1519.0,403.2 1522.5,404.0 1526.0,405.4 1527.5,406.2 1529.5,409.0 1531.0,412.0 1533.0,415.3 1536.5,421.6 1537.5,423.8 1540.0,430.4 1542.5,437.5 1543.5,439.8 1545.5,443.8 1547.0,445.0 1549.0,446.2 1550.5,447.0 1553.8,448.0 1554.0,448.0 1556.5,444.5 1557.5,443.2 1561.0,438.2 1562.5,436.2 1564.5,434.0 1568.0,430.2 1571.5,426.9 1575.0,423.8 1575.0,423.8 1578.5,421.0 1582.0,418.6 1585.0,416.5 1585.5,416.2 1589.0,413.8 1590.0,413.2 1592.5,411.9 1596.0,410.1 1599.5,408.8 1600.0,408.6 1603.0,407.8 1606.5,407.0 1610.0,406.3 1613.5,405.7 1615.0,405.5 1617.0,405.2 1620.5,404.8 1624.0,404.4 1627.5,404.1 1630.0,403.8 1631.0,403.7 1634.5,403.3 1638.0,402.8 1640.0,402.6 1641.5,402.4 1645.0,402.1 1648.5,401.7 1652.0,401.4 1655.5,401.1 1659.0,400.8 1662.5,400.5"/>
<polyline stroke="#00bbef" stroke-width="8.2" points="143.0,620.5 146.5,620.0 150.0,619.5 153.5,619.0 157.0,618.5 160.5,618.1 164.0,617.6 167.5,617.2 171.0,616.7 174.5,616.3 178.0,615.9 181.5,615.5 185.0,615.1 188.5,614.7 190.0,614.5 192.0,614.3 195.5,613.9 199.0,613.5 202.5,613.1 206.0,612.8 209.5,612.4 213.0,612.0 216.5,611.7 220.0,611.4 223.5,611.0 227.0,610.7 230.5,610.4 234.0,610.2 237.5,609.9 240.0,609.8 241.0,609.7 244.5,609.5 248.0,609.2 251.5,609.0 255.0,608.8 258.5,608.6 262.0,608.5 265.5,608.3 269.0,608.1 272.5,608.0 276.0,607.8 279.5,607.7 283.0,607.5 286.5,607.4 290.0,607.3 290.0,607.3 293.5,607.2 297.1,607.1 300.6,607.0 304.1,606.9 307.6,606.8 311.1,606.7 314.6,606.7 318.1,606.6 321.6,606.5 325.1,606.4 328.6,606.4 332.1,606.3 335.6,606.3 339.1,606.2 340.0,606.2 342.6,606.2 346.1,606.1 349.6,606.1 353.1,606.0 356.6,606.0 360.1,605.9 363.6,605.9 367.1,605.8 370.6,605.8 374.1,605.8 377.6,605.7 381.1,605.7 384.6,605.7 388.1,605.7 390.0,605.7 391.6,605.7 395.1,605.7 398.6,605.7 402.1,605.7 405.6,605.7 409.1,605.7 412.6,605.8 416.1,605.8 419.6,605.8 423.1,605.8 426.6,605.9 430.1,605.9 433.6,605.9 437.1,606.0 440.0,606.0 440.6,606.0 444.1,606.1 447.6,606.2 451.1,606.3 454.6,606.5 458.1,606.7 461.6,607.0 465.1,607.2 468.6,607.5 472.1,607.8 475.6,608.1 479.1,608.4 482.6,608.7 486.1,609.0 489.6,609.3 490.0,609.3 493.1,609.6 496.6,609.9 500.1,610.2 503.6,610.6 507.1,610.9 510.6,611.3 514.1,611.7 517.6,612.1 521.1,612.4 524.6,612.8 528.1,613.2 531.6,613.6 535.1,614.0 538.6,614.4 540.0,614.5 542.1,614.7 545.6,615.1 549.1,615.4 552.6,615.8 556.1,616.1 559.6,616.5 563.1,616.8 566.6,617.2 570.0,617.5 570.1,617.5 573.6,617.9 577.1,618.2 580.6,618.5 584.1,618.9 587.6,619.2 591.1,619.6 594.6,619.9 598.1,620.2 601.7,620.5 605.2,620.8 608.7,621.1 610.0,621.2 612.2,621.4 615.7,621.7 619.2,622.0 622.7,622.3 626.2,622.5 629.7,622.8 633.2,623.0 636.7,623.3 640.2,623.6 643.7,623.8 647.2,624.1 650.7,624.3 654.2,624.6 657.7,624.8 660.0,625.0 661.2,625.1 664.7,625.4 668.2,625.6 671.7,625.9 675.2,626.2 678.7,626.5 682.2,626.7 685.7,627.0 689.2,627.3 692.7,627.6 696.2,627.8 699.7,628.1 703.2,628.3 706.7,628.5 710.0,628.8 710.2,628.8 713.7,629.0 717.2,629.2 720.7,629.3 724.2,629.5 727.7,629.7 731.2,629.8 734.7,630.0 738.2,630.1 741.7,630.3 745.2,630.5 748.7,630.6 752.2,630.8 755.7,631.0 759.2,631.2 760.0,631.2 762.7,631.4 766.2,631.7 769.7,631.9 773.2,632.2 776.7,632.4 780.2,632.7 783.7,633.0 787.2,633.3 790.7,633.6 794.2,633.9 797.7,634.1 801.2,634.4 804.7,634.7 808.2,634.9 810.0,635.0 811.7,635.1 815.2,635.3 818.7,635.5 822.2,635.7 825.7,635.8 829.2,636.0 832.7,636.1 836.2,636.3 839.7,636.5 843.2,636.6 846.7,636.8 850.2,637.0 853.7,637.1 857.2,637.3 860.0,637.5 860.7,637.5 864.2,637.8 867.7,638.0 871.2,638.2 874.7,638.5 878.2,638.7 881.7,639.0 885.2,639.2 888.7,639.5 892.2,639.8 895.7,640.1 899.2,640.3 902.8,640.6 906.3,640.9 909.8,641.2 910.0,641.2 913.3,641.5 916.8,641.8 920.3,642.1 923.8,642.4 927.3,642.7 930.8,643.0 934.3,643.3 937.8,643.7 941.3,644.0 944.8,644.4 948.3,644.8 951.8,645.2 955.3,645.6 958.8,646.1 960.0,646.2 962.3,646.6 965.8,647.1 969.3,647.7 972.8,648.4 976.3,649.1 979.8,649.9 983.3,650.7 986.8,651.6 990.0,652.5 990.3,652.6 993.8,653.7 997.3,655.1 1000.8,656.7 1004.3,658.3 1007.8,660.1 1011.3,661.9 1014.8,663.6 1015.0,663.8 1018.3,665.4 1021.8,667.2 1025.3,669.0 1028.8,670.9 1032.3,672.8 1035.8,674.9 1039.3,677.1 1040.0,677.5 1042.8,679.4 1046.3,682.2 1049.8,685.1 1053.3,687.9 1056.8,690.5 1060.0,692.5 1060.3,692.7 1063.8,694.6 1067.3,696.4 1070.8,698.0 1074.3,699.3 1077.5,700.0 1077.8,700.0 1081.3,700.6 1084.8,701.0 1088.3,701.2 1090.0,701.2 1091.8,701.1 1095.3,699.9 1098.8,698.2 1100.0,697.5 1102.3,695.9 1105.8,692.3 1109.3,687.8 1112.8,682.9 1115.0,680.0 1116.3,678.2 1119.8,673.3 1123.3,668.1 1126.8,662.7 1130.0,657.5 1130.3,657.0 1133.8,650.7 1137.3,644.0 1140.8,637.3 1144.3,631.1 1145.0,630.0 1147.8,625.6 1151.3,620.4 1154.8,615.4 1158.3,610.7 1161.8,606.1 1165.0,602.0 1165.3,601.6 1168.8,597.1 1172.3,592.7 1175.8,588.3 1179.3,584.1 1182.8,580.1 1186.3,576.3 1189.8,572.7 1190.0,572.5 1193.3,569.3 1196.8,566.0 1200.3,562.9 1203.8,560.0 1207.4,557.1 1210.9,554.4 1214.4,551.7 1215.0,551.2 1217.9,549.2 1221.4,546.7 1224.9,544.4 1228.4,542.1 1231.9,539.9 1235.4,537.8 1238.9,535.7 1240.0,535.0 1242.4,533.6 1245.9,531.6 1249.4,529.7 1252.9,527.8 1256.4,525.9 1259.9,524.1 1263.4,522.2 1265.0,521.2 1266.9,520.2 1270.4,518.2 1273.9,516.2 1277.4,514.2 1280.9,512.2 1284.4,510.2 1287.9,508.2 1290.0,507.0 1291.4,506.2 1294.9,504.2 1298.4,502.1 1301.9,500.1 1305.4,498.0 1308.9,496.0 1312.4,494.0 1315.0,492.5 1315.9,492.0 1319.4,490.1 1322.9,488.1 1326.4,486.2 1329.9,484.3 1333.4,482.4 1336.9,480.6 1340.0,479.0 1340.4,478.8 1343.9,477.0 1347.4,475.3 1350.9,473.6 1354.4,471.9 1357.9,470.3 1361.4,468.7 1364.9,467.0 1365.0,467.0 1368.4,465.4 1371.9,463.9 1375.4,462.3 1378.9,460.8 1382.4,459.3 1385.9,457.8 1389.4,456.3 1390.0,456.0 1392.9,454.7 1396.4,453.2 1399.9,451.7 1403.4,450.1 1406.9,448.7 1410.4,447.2 1413.9,445.9 1415.0,445.5 1417.4,444.6 1420.9,443.4 1424.4,442.2 1427.9,441.1 1431.4,440.0 1434.9,439.0 1438.4,437.9 1440.0,437.5 1441.9,437.0 1445.4,436.0 1448.9,435.1 1452.4,434.2 1455.9,433.4 1459.4,432.6 1462.9,431.7 1465.0,431.2 1466.4,430.9 1469.9,430.1 1473.4,429.3 1476.9,428.5 1480.4,427.7 1483.9,427.0 1487.4,426.3 1490.0,425.8 1490.9,425.6 1494.4,424.9 1497.9,424.3 1501.4,423.7 1504.9,423.0 1508.4,422.4 1512.0,421.8 1515.0,421.2 1515.5,421.2 1519.0,420.4 1522.5,419.5 1526.0,418.6 1529.5,417.7 1533.0,416.9 1536.5,416.4 1540.0,416.3 1540.0,416.2 1543.5,416.4 1547.0,416.6 1550.5,416.9 1552.5,417.0 1554.0,417.1 1557.5,417.3 1561.0,417.4 1564.5,417.5 1565.0,417.5 1568.0,417.1 1571.5,416.0 1575.0,414.7 1577.5,413.8 1578.5,413.4 1582.0,412.2 1585.5,411.0 1589.0,409.7 1592.5,408.4 1596.0,407.1 1599.5,405.9 1602.5,405.0 1603.0,404.9 1606.5,403.9 1610.0,402.9 1613.5,402.0 1617.0,401.2 1620.5,400.3 1624.0,399.5 1627.5,398.8 1627.5,398.8 1631.0,398.0 1634.5,397.2 1638.0,396.5 1641.5,395.8 1645.0,395.2 1648.5,394.5 1652.0,393.8 1652.5,393.8 1655.5,393.2 1659.0,392.6 1662.5,392.0"/>
<polyline stroke="#00bbef" stroke-width="9" shape-rendering="crispEdges" points="143.0,620.5 146.5,620.0 150.0,619.5 153.5,619.0 157.0,618.5 160.5,618.1 164.0,617.6 167.5,617.2 171.0,616.7 174.5,616.3 178.0,615.9 181.5,615.5 185.0,615.1 188.5,614.7 190.0,614.5 192.0,614.3 195.5,613.9 199.0,613.5 202.5,613.1 206.0,612.8 209.5,612.4 213.0,612.0 216.5,611.7 220.0,611.4 223.5,611.0 227.0,610.7 230.5,610.4 234.0,610.2 237.5,609.9 240.0,609.8 241.0,609.7 244.5,609.5 248.0,609.2 251.5,609.0 255.0,608.8 258.5,608.6 262.0,608.5 265.5,608.3 269.0,608.1 272.5,608.0 276.0,607.8 279.5,607.7 283.0,607.5 286.5,607.4 290.0,607.3 290.0,607.3 293.5,607.2 297.1,607.1 300.6,607.0 304.1,606.9 307.6,606.8 311.1,606.7 314.6,606.7 318.1,606.6 321.6,606.5 325.1,606.4 328.6,606.4 332.1,606.3 335.6,606.3 339.1,606.2 340.0,606.2 342.6,606.2 346.1,606.1 349.6,606.1 353.1,606.0 356.6,606.0 360.1,605.9 363.6,605.9 367.1,605.8 370.6,605.8 374.1,605.8 377.6,605.7 381.1,605.7 384.6,605.7 388.1,605.7 390.0,605.7 391.6,605.7 395.1,605.7 398.6,605.7 402.1,605.7 405.6,605.7 409.1,605.7 412.6,605.8 416.1,605.8 419.6,605.8 423.1,605.8 426.6,605.9 430.1,605.9 433.6,605.9 437.1,606.0 440.0,606.0 440.6,606.0 444.1,606.1 447.6,606.2 451.1,606.3 454.6,606.5 458.1,606.7 461.6,607.0 465.1,607.2 468.6,607.5 472.1,607.8 475.6,608.1 479.1,608.4 482.6,608.7 486.1,609.0 489.6,609.3 490.0,609.3 493.1,609.6 496.6,609.9 500.1,610.2 503.6,610.6 507.1,610.9 510.6,611.3 514.1,611.7 517.6,612.1 521.1,612.4 524.6,612.8 528.1,613.2 531.6,613.6 535.1,614.0 538.6,614.4 540.0,614.5 542.1,614.7 545.6,615.1 549.1,615.4 552.6,615.8 556.1,616.1 559.6,616.5 563.1,616.8 566.6,617.2 570.0,617.5 570.1,617.5 573.6,617.9 577.1,618.2 580.6,618.5 584.1,618.9 587.6,619.2 591.1,619.6 594.6,619.9 598.1,620.2 601.7,620.5 605.2,620.8 608.7,621.1 610.0,621.2 612.2,621.4 615.7,621.7 619.2,622.0 622.7,622.3 626.2,622.5 629.7,622.8 633.2,623.0 636.7,623.3 640.2,623.6 643.7,623.8 647.2,624.1 650.7,624.3 654.2,624.6 657.7,624.8 660.0,625.0 661.2,625.1 664.7,625.4 668.2,625.6 671.7,625.9 675.2,626.2 678.7,626.5 682.2,626.7 685.7,627.0 689.2,627.3 692.7,627.6 696.2,627.8 699.7,628.1 703.2,628.3 706.7,628.5 710.0,628.8 710.2,628.8 713.7,629.0 717.2,629.2 720.7,629.3 724.2,629.5 727.7,629.7 731.2,629.8 734.7,630.0 738.2,630.1 741.7,630.3 745.2,630.5 748.7,630.6 752.2,630.8 755.7,631.0 759.2,631.2 760.0,631.2 762.7,631.4 766.2,631.7 769.7,631.9 773.2,632.2 776.7,632.4 780.2,632.7 783.7,633.0 787.2,633.3 790.7,633.6 794.2,633.9 797.7,634.1 801.2,634.4 804.7,634.7 808.2,634.9 810.0,635.0 811.7,635.1 815.2,635.3 818.7,635.5 822.2,635.7 825.7,635.8 829.2,636.0 832.7,636.1 836.2,636.3 839.7,636.5 843.2,636.6 846.7,636.8 850.2,637.0 853.7,637.1 857.2,637.3 860.0,637.5 860.7,637.5 864.2,637.8 867.7,638.0 871.2,638.2 874.7,638.5 878.2,638.7 881.7,639.0 885.2,639.2 888.7,639.5 892.2,639.8 895.7,640.1 899.2,640.3 902.8,640.6 906.3,640.9 909.8,641.2 910.0,641.2 913.3,641.5 916.8,641.8 920.3,642.1 923.8,642.4 927.3,642.7 930.8,643.0 934.3,643.3 937.8,643.7 941.3,644.0 944.8,644.4 948.3,644.8 951.8,645.2 955.3,645.6 958.8,646.1 960.0,646.2 962.3,646.6 965.8,647.1 969.3,647.7 972.8,648.4 976.3,649.1 979.8,649.9 983.3,650.7 986.8,651.6 990.0,652.5 990.3,652.6 993.8,653.7 997.3,655.1 1000.8,656.7 1004.3,658.3 1007.8,660.1 1011.3,661.9 1014.8,663.6 1015.0,663.8 1018.3,665.4 1021.8,667.2 1025.3,669.0 1028.8,670.9 1032.3,672.8 1035.8,674.9 1039.3,677.1 1040.0,677.5 1042.8,679.4 1046.3,682.2 1049.8,685.1 1053.3,687.9 1056.8,690.5 1060.0,692.5 1060.3,692.7 1063.8,694.6 1067.3,696.4 1070.8,698.0 1074.3,699.3 1077.5,700.0 1077.8,700.0 1081.3,700.6 1084.8,701.0 1088.3,701.2 1090.0,701.2 1091.8,701.1 1095.3,699.9 1098.8,698.2 1100.0,697.5 1102.3,695.9 1105.8,692.3 1109.3,687.8 1112.8,682.9 1115.0,680.0 1116.3,678.2 1119.8,673.3 1123.3,668.1 1126.8,662.7 1130.0,657.5 1130.3,657.0 1133.8,650.7 1137.3,644.0 1140.8,637.3 1144.3,631.1 1145.0,630.0 1147.8,625.6 1151.3,620.4 1154.8,615.4 1158.3,610.7 1161.8,606.1 1165.0,602.0 1165.3,601.6 1168.8,597.1 1172.3,592.7 1175.8,588.3 1179.3,584.1 1182.8,580.1 1186.3,576.3 1189.8,572.7 1190.0,572.5 1193.3,569.3 1196.8,566.0 1200.3,562.9 1203.8,560.0 1207.4,557.1 1210.9,554.4 1214.4,551.7 1215.0,551.2 1217.9,549.2 1221.4,546.7 1224.9,544.4 1228.4,542.1 1231.9,539.9 1235.4,537.8 1238.9,535.7 1240.0,535.0 1242.4,533.6 1245.9,531.6 1249.4,529.7 1252.9,527.8 1256.4,525.9 1259.9,524.1 1263.4,522.2 1265.0,521.2 1266.9,520.2 1270.4,518.2 1273.9,516.2 1277.4,514.2 1280.9,512.2 1284.4,510.2 1287.9,508.2 1290.0,507.0 1291.4,506.2 1294.9,504.2 1298.4,502.1 1301.9,500.1 1305.4,498.0 1308.9,496.0 1312.4,494.0 1315.0,492.5 1315.9,492.0 1319.4,490.1 1322.9,488.1 1326.4,486.2 1329.9,484.3 1333.4,482.4 1336.9,480.6 1340.0,479.0 1340.4,478.8 1343.9,477.0 1347.4,475.3 1350.9,473.6 1354.4,471.9 1357.9,470.3 1361.4,468.7 1364.9,467.0 1365.0,467.0 1368.4,465.4 1371.9,463.9 1375.4,462.3 1378.9,460.8 1382.4,459.3 1385.9,457.8 1389.4,456.3 1390.0,456.0 1392.9,454.7 1396.4,453.2 1399.9,451.7 1403.4,450.1 1406.9,448.7 1410.4,447.2 1413.9,445.9 1415.0,445.5 1417.4,444.6 1420.9,443.4 1424.4,442.2 1427.9,441.1 1431.4,440.0 1434.9,439.0 1438.4,437.9 1440.0,437.5 1441.9,437.0 1445.4,436.0 1448.9,435.1 1452.4,434.2 1455.9,433.4 1459.4,432.6 1462.9,431.7 1465.0,431.2 1466.4,430.9 1469.9,430.1 1473.4,429.3 1476.9,428.5 1480.4,427.7 1483.9,427.0 1487.4,426.3 1490.0,425.8 1490.9,425.6 1494.4,424.9 1497.9,424.3 1501.4,423.7 1504.9,423.0 1508.4,422.4 1512.0,421.8 1515.0,421.2 1515.5,421.2 1519.0,420.4 1522.5,419.5 1526.0,418.6 1529.5,417.7 1533.0,416.9 1536.5,416.4 1540.0,416.3 1540.0,416.2 1543.5,416.4 1547.0,416.6 1550.5,416.9 1552.5,417.0 1554.0,417.1 1557.5,417.3 1561.0,417.4 1564.5,417.5 1565.0,417.5 1568.0,417.1 1571.5,416.0 1575.0,414.7 1577.5,413.8 1578.5,413.4 1582.0,412.2 1585.5,411.0 1589.0,409.7 1592.5,408.4 1596.0,407.1 1599.5,405.9 1602.5,405.0 1603.0,404.9 1606.5,403.9 1610.0,402.9 1613.5,402.0 1617.0,401.2 1620.5,400.3 1624.0,399.5 1627.5,398.8 1627.5,398.8 1631.0,398.0 1634.5,397.2 1638.0,396.5 1641.5,395.8 1645.0,395.2 1648.5,394.5 1652.0,393.8 1652.5,393.8 1655.5,393.2 1659.0,392.6 1662.5,392.0"/>
<polyline stroke="#00ff00" stroke-width="8.2" points="143.0,812.5 146.5,808.8 150.0,806.0 152.5,805.0 153.5,804.8 157.0,804.4 160.5,804.1 164.0,803.9 165.0,803.8 167.5,803.4 171.1,802.8 174.6,802.1 178.1,801.4 181.6,800.8 185.1,800.3 188.6,800.0 190.0,800.0 192.1,800.1 195.6,800.8 199.1,801.6 202.5,802.0 202.6,802.0 206.1,802.0 209.6,801.9 213.1,801.8 216.6,801.7 220.2,801.5 223.7,801.3 225.0,801.2 227.2,800.8 230.7,799.1 234.2,796.8 235.0,796.2 237.7,794.1 241.2,790.3 244.7,785.5 245.0,785.0 248.2,777.6 251.7,768.8 252.5,767.5 255.2,763.7 258.7,759.8 262.2,757.6 262.5,757.5 265.7,757.0 269.2,756.7 272.8,756.4 275.0,756.0 276.3,755.5 279.8,752.4 283.3,750.0 283.8,750.0 286.8,751.4 290.3,755.1 292.5,757.5 293.8,759.0 297.3,763.8 300.8,768.4 302.5,770.0 304.3,771.3 307.8,773.7 311.3,775.5 314.8,776.2 315.0,776.2 318.3,776.2 321.9,776.0 325.4,775.8 328.9,775.6 332.4,775.5 332.5,775.5 335.9,775.6 339.4,775.9 342.9,776.3 346.4,776.8 349.9,777.2 353.4,777.6 356.9,777.9 360.0,778.0 360.4,778.0 363.9,777.8 367.4,777.4 371.0,776.7 374.5,775.9 377.5,775.0 378.0,774.9 381.5,773.2 385.0,770.0 385.0,770.0 388.5,756.3 391.0,740.0 392.0,732.5 395.5,696.4 397.0,680.0 399.0,659.0 402.0,625.0 402.5,618.1 404.5,590.0 406.0,575.1 408.5,550.0 409.5,531.3 411.0,500.0 413.0,465.1 415.5,425.0 416.5,406.9 420.0,350.0 420.0,349.4 423.6,313.7 425.0,300.0 427.1,279.4 427.5,275.0 430.6,242.7 431.2,237.5 434.1,223.7 435.0,220.0 437.6,210.0 440.0,202.5 441.1,199.9 444.6,192.9 447.5,188.8 448.1,188.1 451.6,184.6 455.0,182.5 455.1,182.5 458.6,181.1 462.1,180.0 465.6,179.5 466.2,179.5 469.1,181.0 472.7,184.4 475.0,185.5 476.2,185.5 479.7,184.8 483.2,183.7 486.7,182.4 490.0,181.2 490.2,181.2 493.7,180.0 497.2,178.6 500.7,177.5 502.5,177.0 504.2,176.7 507.7,176.1 511.2,175.7 514.7,175.1 515.0,175.0 518.2,173.9 521.7,172.3 525.3,171.3 526.2,171.2 528.8,171.3 532.3,171.5 535.8,171.6 539.3,171.7 540.0,171.8 542.8,170.8 546.3,168.5 549.8,167.0 550.0,167.0 553.3,167.7 556.8,169.4 560.3,170.9 562.5,171.2 563.8,171.2 567.3,171.0 570.8,170.7 574.4,170.5 575.0,170.5 577.9,171.0 581.4,172.7 584.9,174.9 585.0,175.0 588.4,178.3 591.9,183.0 595.0,187.5 595.4,188.1 598.9,193.8 602.4,198.7 602.5,198.8 605.9,201.9 609.4,203.7 610.0,203.8 612.9,203.2 616.4,201.8 617.5,201.2 619.9,199.3 623.4,195.4 627.0,192.6 627.5,192.5 630.5,192.2 634.0,192.0 637.5,191.9 641.0,191.8 644.5,191.6 647.5,191.2 648.0,191.1 651.5,187.4 655.0,182.0 657.5,179.5 658.5,179.0 662.0,177.8 665.5,176.9 669.0,176.1 672.5,175.0 672.5,175.0 676.1,173.5 679.6,171.7 682.5,170.0 683.1,169.6 686.6,166.4 690.0,164.5 690.1,164.5 693.6,165.6 697.1,167.2 698.8,167.5 700.6,167.2 704.1,165.5 707.5,164.5 707.6,164.5 711.1,167.0 714.6,170.6 716.2,171.2 718.1,171.1 721.6,170.4 725.0,170.0 725.2,170.0 728.7,171.5 732.2,174.8 735.0,177.5 735.7,178.1 739.2,181.2 742.5,185.0 742.7,185.2 746.2,191.1 749.7,199.2 750.0,200.0 753.2,212.5 755.0,220.0 756.7,226.5 760.0,237.5 760.2,238.1 763.7,246.2 767.2,252.2 767.5,252.5 770.7,256.1 774.2,259.1 777.5,261.2 777.8,261.4 781.3,263.4 784.8,265.1 788.3,266.1 790.0,266.2 791.8,266.2 795.3,266.2 798.8,266.2 800.0,266.2 802.3,267.5 805.8,271.3 807.5,272.0 809.3,270.6 812.8,263.9 815.0,261.2 816.3,260.7 819.8,259.9 823.3,259.2 825.0,258.8 826.9,258.0 830.4,256.3 833.9,254.3 835.0,253.8 837.4,252.4 840.9,250.1 844.4,248.2 847.5,247.5 847.9,247.5 851.4,247.5 854.9,247.5 858.4,247.5 860.0,247.5 861.9,247.7 865.4,248.6 868.9,250.3 872.4,252.3 875.0,253.8 875.9,254.3 879.5,257.0 883.0,260.3 886.5,263.9 887.5,265.0 890.0,267.6 893.5,271.4 897.0,275.7 900.0,280.0 900.5,280.8 904.0,287.1 907.5,294.5 910.0,300.0 911.0,302.3 914.5,310.8 918.0,319.9 920.0,325.0 921.5,329.2 925.0,339.6 928.6,349.0 930.0,352.0 932.1,355.2 935.6,359.5 937.5,362.5 939.1,365.7 942.6,374.8 945.0,382.5 946.1,386.5 949.6,402.9 950.0,405.0 953.1,424.3 955.0,437.5 956.6,449.2 960.0,475.0 960.1,475.9 963.6,501.7 965.0,512.5 967.1,531.6 970.0,557.5 970.6,562.5 974.1,588.3 976.0,600.0 977.6,609.2 981.2,626.5 982.5,632.5 984.7,642.4 988.2,657.0 990.0,662.0 991.7,665.1 995.2,670.5 998.7,674.5 1002.2,677.3 1002.5,677.5 1005.7,679.5 1009.2,681.4 1012.7,682.9 1016.2,683.7 1017.5,683.8 1019.7,683.2 1023.2,680.4 1026.7,676.4 1030.0,672.5 1030.3,672.2 1033.8,667.8 1037.3,662.7 1040.8,657.2 1044.3,651.2 1045.0,650.0 1047.8,644.8 1051.3,637.5 1054.8,630.2 1057.5,625.0 1058.3,623.6 1061.8,617.9 1065.3,612.5 1068.8,607.0 1070.0,605.0 1072.3,600.9 1075.8,594.4 1079.3,587.6 1082.9,580.8 1086.4,574.1 1089.9,567.7 1090.0,567.5 1093.4,561.5 1096.9,555.3 1100.4,549.2 1103.9,543.3 1107.4,537.8 1110.0,534.0 1110.9,532.7 1114.4,528.1 1117.9,523.7 1121.4,519.5 1124.9,515.5 1128.4,511.7 1130.0,510.0 1132.0,508.0 1135.5,504.4 1139.0,501.1 1142.5,497.8 1145.0,495.5 1146.0,494.6 1149.5,491.3 1153.0,488.0 1156.5,485.0 1160.0,482.5 1160.0,482.5 1163.5,480.1 1167.0,477.8 1170.5,475.6 1174.0,473.8 1177.5,472.7 1180.0,472.5 1181.1,472.5 1184.6,473.3 1188.1,474.7 1191.6,476.4 1195.1,477.9 1197.5,478.8 1198.6,479.0 1202.1,479.8 1205.6,480.5 1209.1,481.1 1212.6,481.8 1216.1,482.6 1219.6,483.6 1220.0,483.8 1223.1,485.4 1226.6,488.1 1230.1,491.2 1233.7,494.1 1235.0,495.0 1237.2,496.3 1240.7,498.2 1244.2,500.0 1247.7,501.8 1251.2,504.0 1252.5,505.0 1254.7,507.0 1258.2,511.1 1261.7,515.4 1265.0,518.8 1265.2,518.9 1268.7,521.9 1272.2,524.6 1275.7,526.7 1277.5,527.5 1279.2,528.1 1282.8,529.4 1286.3,530.4 1289.8,531.1 1292.5,531.2 1293.3,531.2 1296.8,530.5 1300.3,529.3 1303.8,528.0 1307.3,527.0 1307.5,527.0 1310.8,526.5 1314.3,526.1 1317.8,525.7 1321.3,525.5 1322.5,525.5 1324.8,525.5 1328.3,525.8 1331.8,526.3 1335.0,527.0 1335.4,527.1 1338.9,531.1 1340.0,533.0 1342.4,538.3 1345.0,546.0 1345.9,548.7 1349.4,561.1 1352.5,574.0 1352.9,575.7 1356.4,593.6 1357.5,600.0 1359.9,615.9 1362.5,635.0 1363.4,642.0 1366.9,670.4 1367.5,675.0 1370.4,697.1 1372.5,712.5 1373.9,723.7 1377.4,749.6 1377.5,750.0 1380.9,768.2 1382.5,775.0 1384.5,783.1 1387.5,792.5 1388.0,793.3 1391.5,798.2 1395.0,801.4 1397.5,802.5 1398.5,802.7 1402.0,803.2 1405.5,803.6 1409.0,803.7 1410.0,803.8 1412.5,803.6 1416.0,802.9 1419.5,801.8 1423.0,800.6 1425.0,800.0 1426.5,799.5 1430.0,798.1 1433.5,796.6 1437.1,795.0 1440.0,793.8 1440.6,793.5 1444.1,792.2 1447.6,790.9 1451.1,789.4 1454.6,787.7 1455.0,787.5 1458.1,785.5 1461.6,782.8 1465.1,779.7 1468.6,776.3 1470.0,775.0 1472.1,772.7 1475.6,768.4 1479.1,764.5 1480.0,763.8 1482.6,761.9 1486.2,759.9 1489.7,758.1 1493.2,756.2 1495.0,755.0 1496.7,753.8 1500.2,751.2 1503.7,748.3 1507.2,745.3 1507.5,745.0 1510.7,742.0 1514.2,738.5 1517.7,734.9 1521.2,731.3 1522.5,730.0 1524.7,727.8 1528.2,724.3 1531.7,720.8 1535.3,717.2 1538.8,713.7 1540.0,712.5 1542.3,710.2 1545.8,706.5 1549.3,702.9 1552.8,699.5 1555.0,697.5 1556.3,696.4 1559.8,693.6 1563.3,691.1 1565.0,690.0 1566.8,688.9 1570.3,687.0 1573.8,685.3 1577.3,683.6 1577.5,683.5 1580.8,681.8 1584.3,680.0 1587.5,678.5 1587.9,678.3 1591.4,676.8 1594.9,675.2 1598.4,673.8 1601.9,672.7 1602.5,672.5 1605.4,671.9 1608.9,671.3 1612.4,670.5 1612.5,670.5 1615.9,669.3 1619.4,667.7 1622.9,665.9 1625.0,665.0 1626.4,664.4 1629.9,662.7 1633.4,661.2 1637.0,660.1 1637.5,660.0 1640.5,659.6 1644.0,659.2 1647.5,658.8 1647.5,658.8 1651.0,657.8 1654.5,657.0 1655.0,657.0 1658.0,657.7 1661.5,660.0"/>
<polyline stroke="#00ff00" stroke-width="9" shape-rendering="crispEdges" points="143.0,812.5 146.5,808.8 150.0,806.0 152.5,805.0 153.5,804.8 157.0,804.4 160.5,804.1 164.0,803.9 165.0,803.8 167.5,803.4 171.1,802.8 174.6,802.1 178.1,801.4 181.6,800.8 185.1,800.3 188.6,800.0 190.0,800.0 192.1,800.1 195.6,800.8 199.1,801.6 202.5,802.0 202.6,802.0 206.1,802.0 209.6,801.9 213.1,801.8 216.6,801.7 220.2,801.5 223.7,801.3 225.0,801.2 227.2,800.8 230.7,799.1 234.2,796.8 235.0,796.2 237.7,794.1 241.2,790.3 244.7,785.5 245.0,785.0 248.2,777.6 251.7,768.8 252.5,767.5 255.2,763.7 258.7,759.8 262.2,757.6 262.5,757.5 265.7,757.0 269.2,756.7 272.8,756.4 275.0,756.0 276.3,755.5 279.8,752.4 283.3,750.0 283.8,750.0 286.8,751.4 290.3,755.1 292.5,757.5 293.8,759.0 297.3,763.8 300.8,768.4 302.5,770.0 304.3,771.3 307.8,773.7 311.3,775.5 314.8,776.2 315.0,776.2 318.3,776.2 321.9,776.0 325.4,775.8 328.9,775.6 332.4,775.5 332.5,775.5 335.9,775.6 339.4,775.9 342.9,776.3 346.4,776.8 349.9,777.2 353.4,777.6 356.9,777.9 360.0,778.0 360.4,778.0 363.9,777.8 367.4,777.4 371.0,776.7 374.5,775.9 377.5,775.0 378.0,774.9 381.5,773.2 385.0,770.0 385.0,770.0 388.5,756.3 391.0,740.0 392.0,732.5 395.5,696.4 397.0,680.0 399.0,659.0 402.0,625.0 402.5,618.1 404.5,590.0 406.0,575.1 408.5,550.0 409.5,531.3 411.0,500.0 413.0,465.1 415.5,425.0 416.5,406.9 420.0,350.0 420.0,349.4 423.6,313.7 425.0,300.0 427.1,279.4 427.5,275.0 430.6,242.7 431.2,237.5 434.1,223.7 435.0,220.0 437.6,210.0 440.0,202.5 441.1,199.9 444.6,192.9 447.5,188.8 448.1,188.1 451.6,184.6 455.0,182.5 455.1,182.5 458.6,181.1 462.1,180.0 465.6,179.5 466.2,179.5 469.1,181.0 472.7,184.4 475.0,185.5 476.2,185.5 479.7,184.8 483.2,183.7 486.7,182.4 490.0,181.2 490.2,181.2 493.7,180.0 497.2,178.6 500.7,177.5 502.5,177.0 504.2,176.7 507.7,176.1 511.2,175.7 514.7,175.1 515.0,175.0 518.2,173.9 521.7,172.3 525.3,171.3 526.2,171.2 528.8,171.3 532.3,171.5 535.8,171.6 539.3,171.7 540.0,171.8 542.8,170.8 546.3,168.5 549.8,167.0 550.0,167.0 553.3,167.7 556.8,169.4 560.3,170.9 562.5,171.2 563.8,171.2 567.3,171.0 570.8,170.7 574.4,170.5 575.0,170.5 577.9,171.0 581.4,172.7 584.9,174.9 585.0,175.0 588.4,178.3 591.9,183.0 595.0,187.5 595.4,188.1 598.9,193.8 602.4,198.7 602.5,198.8 605.9,201.9 609.4,203.7 610.0,203.8 612.9,203.2 616.4,201.8 617.5,201.2 619.9,199.3 623.4,195.4 627.0,192.6 627.5,192.5 630.5,192.2 634.0,192.0 637.5,191.9 641.0,191.8 644.5,191.6 647.5,191.2 648.0,191.1 651.5,187.4 655.0,182.0 657.5,179.5 658.5,179.0 662.0,177.8 665.5,176.9 669.0,176.1 672.5,175.0 672.5,175.0 676.1,173.5 679.6,171.7 682.5,170.0 683.1,169.6 686.6,166.4 690.0,164.5 690.1,164.5 693.6,165.6 697.1,167.2 698.8,167.5 700.6,167.2 704.1,165.5 707.5,164.5 707.6,164.5 711.1,167.0 714.6,170.6 716.2,171.2 718.1,171.1 721.6,170.4 725.0,170.0 725.2,170.0 728.7,171.5 732.2,174.8 735.0,177.5 735.7,178.1 739.2,181.2 742.5,185.0 742.7,185.2 746.2,191.1 749.7,199.2 750.0,200.0 753.2,212.5 755.0,220.0 756.7,226.5 760.0,237.5 760.2,238.1 763.7,246.2 767.2,252.2 767.5,252.5 770.7,256.1 774.2,259.1 777.5,261.2 777.8,261.4 781.3,263.4 784.8,265.1 788.3,266.1 790.0,266.2 791.8,266.2 795.3,266.2 798.8,266.2 800.0,266.2 802.3,267.5 805.8,271.3 807.5,272.0 809.3,270.6 812.8,263.9 815.0,261.2 816.3,260.7 819.8,259.9 823.3,259.2 825.0,258.8 826.9,258.0 830.4,256.3 833.9,254.3 835.0,253.8 837.4,252.4 840.9,250.1 844.4,248.2 847.5,247.5 847.9,247.5 851.4,247.5 854.9,247.5 858.4,247.5 860.0,247.5 861.9,247.7 865.4,248.6 868.9,250.3 872.4,252.3 875.0,253.8 875.9,254.3 879.5,257.0 883.0,260.3 886.5,263.9 887.5,265.0 890.0,267.6 893.5,271.4 897.0,275.7 900.0,280.0 900.5,280.8 904.0,287.1 907.5,294.5 910.0,300.0 911.0,302.3 914.5,310.8 918.0,319.9 920.0,325.0 921.5,329.2 925.0,339.6 928.6,349.0 930.0,352.0 932.1,355.2 935.6,359.5 937.5,362.5 939.1,365.7 942.6,374.8 945.0,382.5 946.1,386.5 949.6,402.9 950.0,405.0 953.1,424.3 955.0,437.5 956.6,449.2 960.0,475.0 960.1,475.9 963.6,501.7 965.0,512.5 967.1,531.6 970.0,557.5 970.6,562.5 974.1,588.3 976.0,600.0 977.6,609.2 981.2,626.5 982.5,632.5 984.7,642.4 988.2,657.0 990.0,662.0 991.7,665.1 995.2,670.5 998.7,674.5 1002.2,677.3 1002.5,677.5 1005.7,679.5 1009.2,681.4 1012.7,682.9 1016.2,683.7 1017.5,683.8 1019.7,683.2 1023.2,680.4 1026.7,676.4 1030.0,672.5 1030.3,672.2 1033.8,667.8 1037.3,662.7 1040.8,657.2 1044.3,651.2 1045.0,650.0 1047.8,644.8 1051.3,637.5 1054.8,630.2 1057.5,625.0 1058.3,623.6 1061.8,617.9 1065.3,612.5 1068.8,607.0 1070.0,605.0 1072.3,600.9 1075.8,594.4 1079.3,587.6 1082.9,580.8 1086.4,574.1 1089.9,567.7 1090.0,567.5 1093.4,561.5 1096.9,555.3 1100.4,549.2 1103.9,543.3 1107.4,537.8 1110.0,534.0 1110.9,532.7 1114.4,528.1 1117.9,523.7 1121.4,519.5 1124.9,515.5 1128.4,511.7 1130.0,510.0 1132.0,508.0 1135.5,504.4 1139.0,501.1 1142.5,497.8 1145.0,495.5 1146.0,494.6 1149.5,491.3 1153.0,488.0 1156.5,485.0 1160.0,482.5 1160.0,482.5 1163.5,480.1 1167.0,477.8 1170.5,475.6 1174.0,473.8 1177.5,472.7 1180.0,472.5 1181.1,472.5 1184.6,473.3 1188.1,474.7 1191.6,476.4 1195.1,477.9 1197.5,478.8 1198.6,479.0 1202.1,479.8 1205.6,480.5 1209.1,481.1 1212.6,481.8 1216.1,482.6 1219.6,483.6 1220.0,483.8 1223.1,485.4 1226.6,488.1 1230.1,491.2 1233.7,494.1 1235.0,495.0 1237.2,496.3 1240.7,498.2 1244.2,500.0 1247.7,501.8 1251.2,504.0 1252.5,505.0 1254.7,507.0 1258.2,511.1 1261.7,515.4 1265.0,518.8 1265.2,518.9 1268.7,521.9 1272.2,524.6 1275.7,526.7 1277.5,527.5 1279.2,528.1 1282.8,529.4 1286.3,530.4 1289.8,531.1 1292.5,531.2 1293.3,531.2 1296.8,530.5 1300.3,529.3 1303.8,528.0 1307.3,527.0 1307.5,527.0 1310.8,526.5 1314.3,526.1 1317.8,525.7 1321.3,525.5 1322.5,525.5 1324.8,525.5 1328.3,525.8 1331.8,526.3 1335.0,527.0 1335.4,527.1 1338.9,531.1 1340.0,533.0 1342.4,538.3 1345.0,546.0 1345.9,548.7 1349.4,561.1 1352.5,574.0 1352.9,575.7 1356.4,593.6 1357.5,600.0 1359.9,615.9 1362.5,635.0 1363.4,642.0 1366.9,670.4 1367.5,675.0 1370.4,697.1 1372.5,712.5 1373.9,723.7 1377.4,749.6 1377.5,750.0 1380.9,768.2 1382.5,775.0 1384.5,783.1 1387.5,792.5 1388.0,793.3 1391.5,798.2 1395.0,801.4 1397.5,802.5 1398.5,802.7 1402.0,803.2 1405.5,803.6 1409.0,803.7 1410.0,803.8 1412.5,803.6 1416.0,802.9 1419.5,801.8 1423.0,800.6 1425.0,800.0 1426.5,799.5 1430.0,798.1 1433.5,796.6 1437.1,795.0 1440.0,793.8 1440.6,793.5 1444.1,792.2 1447.6,790.9 1451.1,789.4 1454.6,787.7 1455.0,787.5 1458.1,785.5 1461.6,782.8 1465.1,779.7 1468.6,776.3 1470.0,775.0 1472.1,772.7 1475.6,768.4 1479.1,764.5 1480.0,763.8 1482.6,761.9 1486.2,759.9 1489.7,758.1 1493.2,756.2 1495.0,755.0 1496.7,753.8 1500.2,751.2 1503.7,748.3 1507.2,745.3 1507.5,745.0 1510.7,742.0 1514.2,738.5 1517.7,734.9 1521.2,731.3 1522.5,730.0 1524.7,727.8 1528.2,724.3 1531.7,720.8 1535.3,717.2 1538.8,713.7 1540.0,712.5 1542.3,710.2 1545.8,706.5 1549.3,702.9 1552.8,699.5 1555.0,697.5 1556.3,696.4 1559.8,693.6 1563.3,691.1 1565.0,690.0 1566.8,688.9 1570.3,687.0 1573.8,685.3 1577.3,683.6 1577.5,683.5 1580.8,681.8 1584.3,680.0 1587.5,678.5 1587.9,678.3 1591.4,676.8 1594.9,675.2 1598.4,673.8 1601.9,672.7 1602.5,672.5 1605.4,671.9 1608.9,671.3 1612.4,670.5 1612.5,670.5 1615.9,669.3 1619.4,667.7 1622.9,665.9 1625.0,665.0 1626.4,664.4 1629.9,662.7 1633.4,661.2 1637.0,660.1 1637.5,660.0 1640.5,659.6 1644.0,659.2 1647.5,658.8 1647.5,658.8 1651.0,657.8 1654.5,657.0 1655.0,657.0 1658.0,657.7 1661.5,660.0"/>
<polyline stroke="#0070c0" stroke-width="8.2" points="143.0,817.5 146.5,815.5 150.0,813.5 153.5,811.5 157.0,809.5 160.5,807.5 164.0,805.6 165.0,805.0 167.5,803.6 171.0,801.5 174.5,799.4 178.0,797.4 181.5,795.3 185.0,793.4 188.5,791.7 190.0,791.0 192.0,790.1 195.5,788.7 199.0,787.5 202.5,786.2 206.0,785.0 209.5,783.8 213.0,782.4 215.0,781.5 216.5,780.8 220.0,779.1 223.5,777.3 227.0,775.3 230.5,773.3 234.0,771.2 237.5,769.1 240.0,767.5 241.0,766.8 244.5,764.4 248.0,761.9 251.5,759.2 255.0,756.5 258.5,753.8 262.0,751.1 265.0,749.0 265.5,748.6 269.0,746.0 272.5,743.3 276.0,740.9 279.5,738.9 280.0,738.8 283.0,737.5 286.5,736.1 290.0,735.2 292.5,735.0 293.5,735.0 297.1,735.8 300.6,737.0 304.1,738.3 307.6,739.3 310.0,739.5 311.1,739.5 314.6,738.8 318.1,737.6 321.6,736.3 325.0,735.5 325.1,735.5 328.6,735.0 332.1,734.5 335.6,734.1 339.1,733.8 342.5,733.8 342.6,733.8 346.1,733.9 349.6,734.3 353.1,734.9 356.6,735.5 360.1,735.9 363.6,736.2 365.0,736.2 367.1,736.1 370.6,735.0 374.1,733.3 377.5,731.2 377.6,731.2 381.1,728.3 384.6,723.9 388.1,718.3 388.5,717.5 391.6,709.2 395.1,696.5 397.0,690.0 398.6,685.0 402.1,673.8 405.6,663.6 407.0,660.0 409.1,655.1 412.6,647.5 416.1,641.3 417.0,640.0 419.6,636.8 423.1,633.2 426.6,629.9 429.0,627.5 430.1,626.3 433.6,622.1 437.1,617.9 440.0,615.0 440.6,614.5 444.1,611.5 447.6,608.7 451.1,606.2 454.6,604.1 457.5,602.5 458.1,602.2 461.6,600.7 465.1,599.4 468.6,598.2 472.1,597.0 475.6,595.7 477.5,595.0 479.1,594.3 482.6,592.4 486.1,590.4 489.6,588.4 493.1,586.6 496.6,585.4 500.0,585.0 500.1,585.0 503.6,585.1 507.1,585.4 510.0,585.5 510.6,585.4 514.1,582.1 517.5,579.5 517.6,579.5 521.1,579.5 524.6,579.5 527.5,579.5 528.1,579.5 531.6,578.3 535.1,576.0 538.6,573.4 540.0,572.5 542.1,571.2 545.6,569.0 549.1,566.7 552.6,564.3 555.0,562.5 556.1,561.6 559.6,558.3 563.1,554.6 566.6,551.0 570.1,547.9 572.5,546.2 573.6,545.6 577.1,544.2 580.6,542.9 583.8,541.2 584.1,540.9 587.6,535.3 591.1,531.3 591.2,531.2 594.6,531.6 598.1,532.5 601.7,533.5 605.2,534.3 607.5,534.5 608.7,534.3 612.2,532.5 615.7,529.8 617.5,528.8 619.2,528.0 622.7,526.3 626.2,524.7 629.7,523.4 633.2,522.4 635.0,522.0 636.7,521.8 640.2,521.4 643.7,521.2 647.2,520.8 648.8,520.5 650.7,519.2 654.2,514.6 657.5,512.0 657.7,512.0 661.2,512.7 664.7,513.6 666.2,513.8 668.2,513.5 671.7,512.0 675.2,509.8 678.7,507.4 682.2,505.4 685.0,504.5 685.7,504.4 689.2,504.0 692.7,503.7 696.2,503.5 699.7,503.3 703.2,503.0 706.7,502.6 707.5,502.5 710.2,501.7 713.7,500.0 717.2,498.8 717.5,498.8 720.7,498.3 724.2,497.9 727.7,497.7 731.2,497.5 732.5,497.5 734.7,497.8 738.2,499.0 741.7,500.8 742.5,501.2 745.2,503.0 748.7,506.0 752.2,509.6 755.7,513.4 759.2,516.8 760.0,517.5 762.7,519.9 766.2,523.0 769.7,525.8 772.5,527.5 773.2,527.9 776.7,529.6 780.0,530.5 780.2,530.5 783.7,530.8 787.2,531.0 790.0,531.2 790.7,531.4 794.2,533.1 797.7,535.0 800.0,535.5 801.2,535.5 804.7,535.3 808.2,535.1 808.8,535.0 811.7,534.1 815.2,531.7 818.7,528.9 822.2,526.4 822.5,526.2 825.7,524.4 829.2,522.4 832.7,520.5 836.2,518.8 839.7,517.6 840.0,517.5 843.2,516.7 846.7,516.0 850.2,515.3 853.7,514.8 857.2,514.2 860.0,513.8 860.7,513.6 864.2,512.9 867.7,512.1 871.2,511.5 874.7,511.3 875.0,511.2 878.2,511.3 881.7,511.6 885.2,512.1 888.7,512.7 890.0,513.0 892.2,514.2 895.7,517.8 899.2,521.8 900.0,522.5 902.8,524.8 906.3,527.7 909.8,530.4 913.3,533.4 915.0,535.0 916.8,536.7 920.3,540.4 923.8,544.4 927.3,548.5 927.5,548.8 930.8,552.9 934.3,557.5 937.5,561.2 937.8,561.5 941.3,564.4 944.8,567.0 947.5,570.0 948.3,571.2 951.8,579.6 953.8,585.0 955.3,589.1 958.8,599.3 959.0,600.0 962.3,609.4 965.8,619.7 967.5,625.0 969.3,630.8 972.8,642.9 975.0,650.0 976.3,653.8 979.8,663.9 982.5,670.0 983.3,671.3 986.8,676.4 990.0,680.0 990.3,680.3 993.8,684.1 997.3,686.2 997.5,686.2 1000.8,685.7 1004.3,685.0 1005.0,685.0 1007.8,685.9 1011.3,688.4 1014.8,690.0 1015.0,690.0 1018.3,690.0 1021.8,690.0 1022.5,690.0 1025.3,689.4 1028.8,687.5 1032.3,685.2 1035.0,683.8 1035.8,683.4 1039.3,682.1 1042.8,681.0 1046.3,679.9 1049.8,678.7 1053.3,677.2 1055.0,676.2 1056.8,674.9 1060.3,671.0 1063.8,667.2 1065.0,666.2 1067.3,664.7 1070.8,662.5 1074.3,660.6 1077.8,659.1 1081.3,658.2 1082.5,658.0 1084.8,657.8 1088.3,657.7 1090.0,657.5 1091.8,656.8 1095.3,653.9 1098.8,650.7 1100.0,650.0 1102.3,649.0 1105.8,647.7 1109.3,646.6 1112.8,645.7 1116.3,644.7 1119.8,643.6 1122.5,642.5 1123.3,642.1 1126.8,639.8 1130.3,637.1 1133.8,634.8 1137.3,633.8 1137.5,633.8 1140.8,634.1 1144.3,634.7 1147.5,635.0 1147.8,635.0 1151.3,634.1 1154.8,632.5 1158.3,630.9 1160.0,630.5 1161.8,630.2 1165.3,629.6 1168.8,629.1 1172.3,628.8 1175.0,628.8 1175.8,628.8 1179.3,628.8 1182.8,629.1 1186.3,629.4 1187.5,629.5 1189.8,630.5 1193.3,633.6 1196.8,636.1 1197.5,636.2 1200.3,636.5 1203.8,636.7 1207.4,637.0 1207.5,637.0 1210.9,637.9 1214.4,639.5 1217.9,641.4 1220.0,642.5 1221.4,643.3 1224.9,645.8 1228.4,648.3 1231.9,649.9 1232.5,650.0 1235.4,650.3 1238.9,650.5 1240.0,650.5 1242.4,650.1 1245.9,649.0 1247.5,648.8 1249.4,648.8 1252.9,648.8 1256.4,649.0 1259.9,649.2 1263.4,649.4 1265.0,649.5 1266.9,649.7 1270.4,650.1 1273.9,650.7 1277.4,651.2 1277.5,651.2 1280.9,651.8 1284.4,652.3 1287.5,652.5 1287.9,652.5 1291.4,650.2 1294.9,646.7 1297.5,645.5 1298.4,645.5 1301.9,645.8 1305.4,646.2 1307.5,646.2 1308.9,646.1 1312.4,645.0 1315.9,643.3 1319.4,641.8 1322.5,641.2 1322.9,641.3 1326.4,641.9 1329.9,643.1 1333.4,644.5 1335.0,645.0 1336.9,645.5 1340.4,646.4 1343.9,647.4 1347.4,648.7 1347.5,648.8 1350.9,650.9 1354.4,654.3 1357.5,658.0 1357.9,658.5 1361.4,664.8 1364.9,672.8 1367.5,679.0 1368.4,681.2 1371.9,690.5 1375.4,700.4 1377.5,706.0 1378.9,709.7 1382.4,719.0 1385.9,727.6 1387.5,731.0 1389.4,734.8 1392.9,741.5 1396.4,746.5 1397.5,747.5 1399.9,749.3 1403.4,751.7 1406.9,753.2 1410.0,753.8 1410.4,753.7 1413.9,752.6 1417.4,751.0 1420.0,750.5 1420.9,750.5 1424.4,750.8 1427.9,751.2 1430.0,751.2 1431.4,751.0 1434.9,749.2 1437.5,747.5 1438.4,746.8 1441.9,743.5 1445.4,740.1 1447.5,738.8 1448.9,738.2 1452.4,737.1 1455.9,736.2 1459.4,735.2 1460.0,735.0 1462.9,733.9 1466.4,732.3 1469.9,730.4 1472.5,728.8 1473.4,727.9 1476.9,723.0 1480.0,720.0 1480.4,719.8 1483.9,718.9 1487.4,718.3 1490.9,717.8 1492.5,717.5 1494.4,717.1 1497.9,716.1 1501.4,715.3 1504.9,715.0 1505.0,715.0 1508.4,715.9 1512.0,717.0 1512.5,717.0 1515.5,716.1 1519.0,713.8 1522.5,712.5 1522.5,712.5 1526.0,712.9 1529.5,713.7 1533.0,714.4 1535.0,714.5 1536.5,714.5 1540.0,714.0 1543.5,713.2 1547.0,712.1 1550.0,711.2 1550.5,711.1 1554.0,709.7 1557.5,708.0 1561.0,706.3 1564.5,705.1 1565.0,705.0 1568.0,704.4 1571.5,703.8 1575.0,703.3 1578.5,703.0 1580.0,703.0 1582.0,703.0 1585.5,703.1 1589.0,703.3 1592.5,703.6 1595.0,703.8 1596.0,703.8 1599.5,704.4 1603.0,704.9 1605.0,705.0 1606.5,704.8 1610.0,703.1 1613.5,701.5 1615.0,701.2 1617.0,701.2 1620.5,701.2 1624.0,701.2 1625.0,701.2 1627.5,701.1 1631.0,700.7 1634.5,700.2 1637.5,700.0 1638.0,700.0 1641.5,701.1 1645.0,702.9 1647.5,703.8 1648.5,703.9 1652.0,704.5 1655.5,705.0 1659.0,705.4 1662.5,705.5"/>
<polyline stroke="#0070c0" stroke-width="9" shape-rendering="crispEdges" points="143.0,817.5 146.5,815.5 150.0,813.5 153.5,811.5 157.0,809.5 160.5,807.5 164.0,805.6 165.0,805.0 167.5,803.6 171.0,801.5 174.5,799.4 178.0,797.4 181.5,795.3 185.0,793.4 188.5,791.7 190.0,791.0 192.0,790.1 195.5,788.7 199.0,787.5 202.5,786.2 206.0,785.0 209.5,783.8 213.0,782.4 215.0,781.5 216.5,780.8 220.0,779.1 223.5,777.3 227.0,775.3 230.5,773.3 234.0,771.2 237.5,769.1 240.0,767.5 241.0,766.8 244.5,764.4 248.0,761.9 251.5,759.2 255.0,756.5 258.5,753.8 262.0,751.1 265.0,749.0 265.5,748.6 269.0,746.0 272.5,743.3 276.0,740.9 279.5,738.9 280.0,738.8 283.0,737.5 286.5,736.1 290.0,735.2 292.5,735.0 293.5,735.0 297.1,735.8 300.6,737.0 304.1,738.3 307.6,739.3 310.0,739.5 311.1,739.5 314.6,738.8 318.1,737.6 321.6,736.3 325.0,735.5 325.1,735.5 328.6,735.0 332.1,734.5 335.6,734.1 339.1,733.8 342.5,733.8 342.6,733.8 346.1,733.9 349.6,734.3 353.1,734.9 356.6,735.5 360.1,735.9 363.6,736.2 365.0,736.2 367.1,736.1 370.6,735.0 374.1,733.3 377.5,731.2 377.6,731.2 381.1,728.3 384.6,723.9 388.1,718.3 388.5,717.5 391.6,709.2 395.1,696.5 397.0,690.0 398.6,685.0 402.1,673.8 405.6,663.6 407.0,660.0 409.1,655.1 412.6,647.5 416.1,641.3 417.0,640.0 419.6,636.8 423.1,633.2 426.6,629.9 429.0,627.5 430.1,626.3 433.6,622.1 437.1,617.9 440.0,615.0 440.6,614.5 444.1,611.5 447.6,608.7 451.1,606.2 454.6,604.1 457.5,602.5 458.1,602.2 461.6,600.7 465.1,599.4 468.6,598.2 472.1,597.0 475.6,595.7 477.5,595.0 479.1,594.3 482.6,592.4 486.1,590.4 489.6,588.4 493.1,586.6 496.6,585.4 500.0,585.0 500.1,585.0 503.6,585.1 507.1,585.4 510.0,585.5 510.6,585.4 514.1,582.1 517.5,579.5 517.6,579.5 521.1,579.5 524.6,579.5 527.5,579.5 528.1,579.5 531.6,578.3 535.1,576.0 538.6,573.4 540.0,572.5 542.1,571.2 545.6,569.0 549.1,566.7 552.6,564.3 555.0,562.5 556.1,561.6 559.6,558.3 563.1,554.6 566.6,551.0 570.1,547.9 572.5,546.2 573.6,545.6 577.1,544.2 580.6,542.9 583.8,541.2 584.1,540.9 587.6,535.3 591.1,531.3 591.2,531.2 594.6,531.6 598.1,532.5 601.7,533.5 605.2,534.3 607.5,534.5 608.7,534.3 612.2,532.5 615.7,529.8 617.5,528.8 619.2,528.0 622.7,526.3 626.2,524.7 629.7,523.4 633.2,522.4 635.0,522.0 636.7,521.8 640.2,521.4 643.7,521.2 647.2,520.8 648.8,520.5 650.7,519.2 654.2,514.6 657.5,512.0 657.7,512.0 661.2,512.7 664.7,513.6 666.2,513.8 668.2,513.5 671.7,512.0 675.2,509.8 678.7,507.4 682.2,505.4 685.0,504.5 685.7,504.4 689.2,504.0 692.7,503.7 696.2,503.5 699.7,503.3 703.2,503.0 706.7,502.6 707.5,502.5 710.2,501.7 713.7,500.0 717.2,498.8 717.5,498.8 720.7,498.3 724.2,497.9 727.7,497.7 731.2,497.5 732.5,497.5 734.7,497.8 738.2,499.0 741.7,500.8 742.5,501.2 745.2,503.0 748.7,506.0 752.2,509.6 755.7,513.4 759.2,516.8 760.0,517.5 762.7,519.9 766.2,523.0 769.7,525.8 772.5,527.5 773.2,527.9 776.7,529.6 780.0,530.5 780.2,530.5 783.7,530.8 787.2,531.0 790.0,531.2 790.7,531.4 794.2,533.1 797.7,535.0 800.0,535.5 801.2,535.5 804.7,535.3 808.2,535.1 808.8,535.0 811.7,534.1 815.2,531.7 818.7,528.9 822.2,526.4 822.5,526.2 825.7,524.4 829.2,522.4 832.7,520.5 836.2,518.8 839.7,517.6 840.0,517.5 843.2,516.7 846.7,516.0 850.2,515.3 853.7,514.8 857.2,514.2 860.0,513.8 860.7,513.6 864.2,512.9 867.7,512.1 871.2,511.5 874.7,511.3 875.0,511.2 878.2,511.3 881.7,511.6 885.2,512.1 888.7,512.7 890.0,513.0 892.2,514.2 895.7,517.8 899.2,521.8 900.0,522.5 902.8,524.8 906.3,527.7 909.8,530.4 913.3,533.4 915.0,535.0 916.8,536.7 920.3,540.4 923.8,544.4 927.3,548.5 927.5,548.8 930.8,552.9 934.3,557.5 937.5,561.2 937.8,561.5 941.3,564.4 944.8,567.0 947.5,570.0 948.3,571.2 951.8,579.6 953.8,585.0 955.3,589.1 958.8,599.3 959.0,600.0 962.3,609.4 965.8,619.7 967.5,625.0 969.3,630.8 972.8,642.9 975.0,650.0 976.3,653.8 979.8,663.9 982.5,670.0 983.3,671.3 986.8,676.4 990.0,680.0 990.3,680.3 993.8,684.1 997.3,686.2 997.5,686.2 1000.8,685.7 1004.3,685.0 1005.0,685.0 1007.8,685.9 1011.3,688.4 1014.8,690.0 1015.0,690.0 1018.3,690.0 1021.8,690.0 1022.5,690.0 1025.3,689.4 1028.8,687.5 1032.3,685.2 1035.0,683.8 1035.8,683.4 1039.3,682.1 1042.8,681.0 1046.3,679.9 1049.8,678.7 1053.3,677.2 1055.0,676.2 1056.8,674.9 1060.3,671.0 1063.8,667.2 1065.0,666.2 1067.3,664.7 1070.8,662.5 1074.3,660.6 1077.8,659.1 1081.3,658.2 1082.5,658.0 1084.8,657.8 1088.3,657.7 1090.0,657.5 1091.8,656.8 1095.3,653.9 1098.8,650.7 1100.0,650.0 1102.3,649.0 1105.8,647.7 1109.3,646.6 1112.8,645.7 1116.3,644.7 1119.8,643.6 1122.5,642.5 1123.3,642.1 1126.8,639.8 1130.3,637.1 1133.8,634.8 1137.3,633.8 1137.5,633.8 1140.8,634.1 1144.3,634.7 1147.5,635.0 1147.8,635.0 1151.3,634.1 1154.8,632.5 1158.3,630.9 1160.0,630.5 1161.8,630.2 1165.3,629.6 1168.8,629.1 1172.3,628.8 1175.0,628.8 1175.8,628.8 1179.3,628.8 1182.8,629.1 1186.3,629.4 1187.5,629.5 1189.8,630.5 1193.3,633.6 1196.8,636.1 1197.5,636.2 1200.3,636.5 1203.8,636.7 1207.4,637.0 1207.5,637.0 1210.9,637.9 1214.4,639.5 1217.9,641.4 1220.0,642.5 1221.4,643.3 1224.9,645.8 1228.4,648.3 1231.9,649.9 1232.5,650.0 1235.4,650.3 1238.9,650.5 1240.0,650.5 1242.4,650.1 1245.9,649.0 1247.5,648.8 1249.4,648.8 1252.9,648.8 1256.4,649.0 1259.9,649.2 1263.4,649.4 1265.0,649.5 1266.9,649.7 1270.4,650.1 1273.9,650.7 1277.4,651.2 1277.5,651.2 1280.9,651.8 1284.4,652.3 1287.5,652.5 1287.9,652.5 1291.4,650.2 1294.9,646.7 1297.5,645.5 1298.4,645.5 1301.9,645.8 1305.4,646.2 1307.5,646.2 1308.9,646.1 1312.4,645.0 1315.9,643.3 1319.4,641.8 1322.5,641.2 1322.9,641.3 1326.4,641.9 1329.9,643.1 1333.4,644.5 1335.0,645.0 1336.9,645.5 1340.4,646.4 1343.9,647.4 1347.4,648.7 1347.5,648.8 1350.9,650.9 1354.4,654.3 1357.5,658.0 1357.9,658.5 1361.4,664.8 1364.9,672.8 1367.5,679.0 1368.4,681.2 1371.9,690.5 1375.4,700.4 1377.5,706.0 1378.9,709.7 1382.4,719.0 1385.9,727.6 1387.5,731.0 1389.4,734.8 1392.9,741.5 1396.4,746.5 1397.5,747.5 1399.9,749.3 1403.4,751.7 1406.9,753.2 1410.0,753.8 1410.4,753.7 1413.9,752.6 1417.4,751.0 1420.0,750.5 1420.9,750.5 1424.4,750.8 1427.9,751.2 1430.0,751.2 1431.4,751.0 1434.9,749.2 1437.5,747.5 1438.4,746.8 1441.9,743.5 1445.4,740.1 1447.5,738.8 1448.9,738.2 1452.4,737.1 1455.9,736.2 1459.4,735.2 1460.0,735.0 1462.9,733.9 1466.4,732.3 1469.9,730.4 1472.5,728.8 1473.4,727.9 1476.9,723.0 1480.0,720.0 1480.4,719.8 1483.9,718.9 1487.4,718.3 1490.9,717.8 1492.5,717.5 1494.4,717.1 1497.9,716.1 1501.4,715.3 1504.9,715.0 1505.0,715.0 1508.4,715.9 1512.0,717.0 1512.5,717.0 1515.5,716.1 1519.0,713.8 1522.5,712.5 1522.5,712.5 1526.0,712.9 1529.5,713.7 1533.0,714.4 1535.0,714.5 1536.5,714.5 1540.0,714.0 1543.5,713.2 1547.0,712.1 1550.0,711.2 1550.5,711.1 1554.0,709.7 1557.5,708.0 1561.0,706.3 1564.5,705.1 1565.0,705.0 1568.0,704.4 1571.5,703.8 1575.0,703.3 1578.5,703.0 1580.0,703.0 1582.0,703.0 1585.5,703.1 1589.0,703.3 1592.5,703.6 1595.0,703.8 1596.0,703.8 1599.5,704.4 1603.0,704.9 1605.0,705.0 1606.5,704.8 1610.0,703.1 1613.5,701.5 1615.0,701.2 1617.0,701.2 1620.5,701.2 1624.0,701.2 1625.0,701.2 1627.5,701.1 1631.0,700.7 1634.5,700.2 1637.5,700.0 1638.0,700.0 1641.5,701.1 1645.0,702.9 1647.5,703.8 1648.5,703.9 1652.0,704.5 1655.5,705.0 1659.0,705.4 1662.5,705.5"/>
</g>
<g fill="none" stroke="#000" stroke-width="2" shape-rendering="crispEdges">
<rect x="143" y="59" width="1528" height="785"/>
<path d="M289 844 v-19 M289 59 v19 M434 844 v-19 M434 59 v19 M579 844 v-19 M579 59 v19 M725 844 v-19 M725 59 v19 M870 844 v-19 M870 59 v19 M1016 844 v-19 M1016 59 v19 M1161 844 v-19 M1161 59 v19 M1307 844 v-19 M1307 59 v19 M1452 844 v-19 M1452 59 v19 M1598 844 v-19 M1598 59 v19 M143 687 h16 M1671 687 h-17 M143 530 h16 M1671 530 h-17 M143 373 h16 M1671 373 h-17 M143 216 h16 M1671 216 h-17"/>
</g>
<g font-size="47.4">
<text text-anchor="middle" transform="translate(141.8 905.0) scale(0.8 1)">0.4</text>
<text text-anchor="middle" transform="translate(287.3 905.0) scale(0.8 1)">0.6</text>
<text text-anchor="middle" transform="translate(432.8 905.0) scale(0.8 1)">0.8</text>
<text text-anchor="middle" transform="translate(579.4 905.0) scale(0.8 1)">1</text>
<text text-anchor="middle" transform="translate(723.9 905.0) scale(0.8 1)">1.2</text>
<text text-anchor="middle" transform="translate(869.4 905.0) scale(0.8 1)">1.4</text>
<text text-anchor="middle" transform="translate(1014.9 905.0) scale(0.8 1)">1.6</text>
<text text-anchor="middle" transform="translate(1160.5 905.0) scale(0.8 1)">1.8</text>
<text text-anchor="middle" transform="translate(1306.0 905.0) scale(0.8 1)">2</text>
<text text-anchor="middle" transform="translate(1451.5 905.0) scale(0.8 1)">2.2</text>
<text text-anchor="middle" transform="translate(1597.0 905.0) scale(0.8 1)">2.4</text>
<text text-anchor="end" transform="translate(130.0 863.2) scale(0.8 1)">0</text>
<text text-anchor="end" transform="translate(130.0 706.2) scale(0.8 1)">0.2</text>
<text text-anchor="end" transform="translate(130.0 549.2) scale(0.8 1)">0.4</text>
<text text-anchor="end" transform="translate(130.0 392.2) scale(0.8 1)">0.6</text>
<text text-anchor="end" transform="translate(130.0 235.2) scale(0.8 1)">0.8</text>
<text text-anchor="end" transform="translate(131.0 78.2) scale(0.8 1)">1</text>
</g>
<text font-size="51.0" text-anchor="middle" transform="translate(906.0 969.0) scale(0.831 1)">Wavelength (μm)</text>
<text font-size="44.8" text-anchor="middle" transform="translate(61.7 458.5) rotate(-90) scale(1.123 1)">Reflectance</text>
</svg>
</body>
</html>
